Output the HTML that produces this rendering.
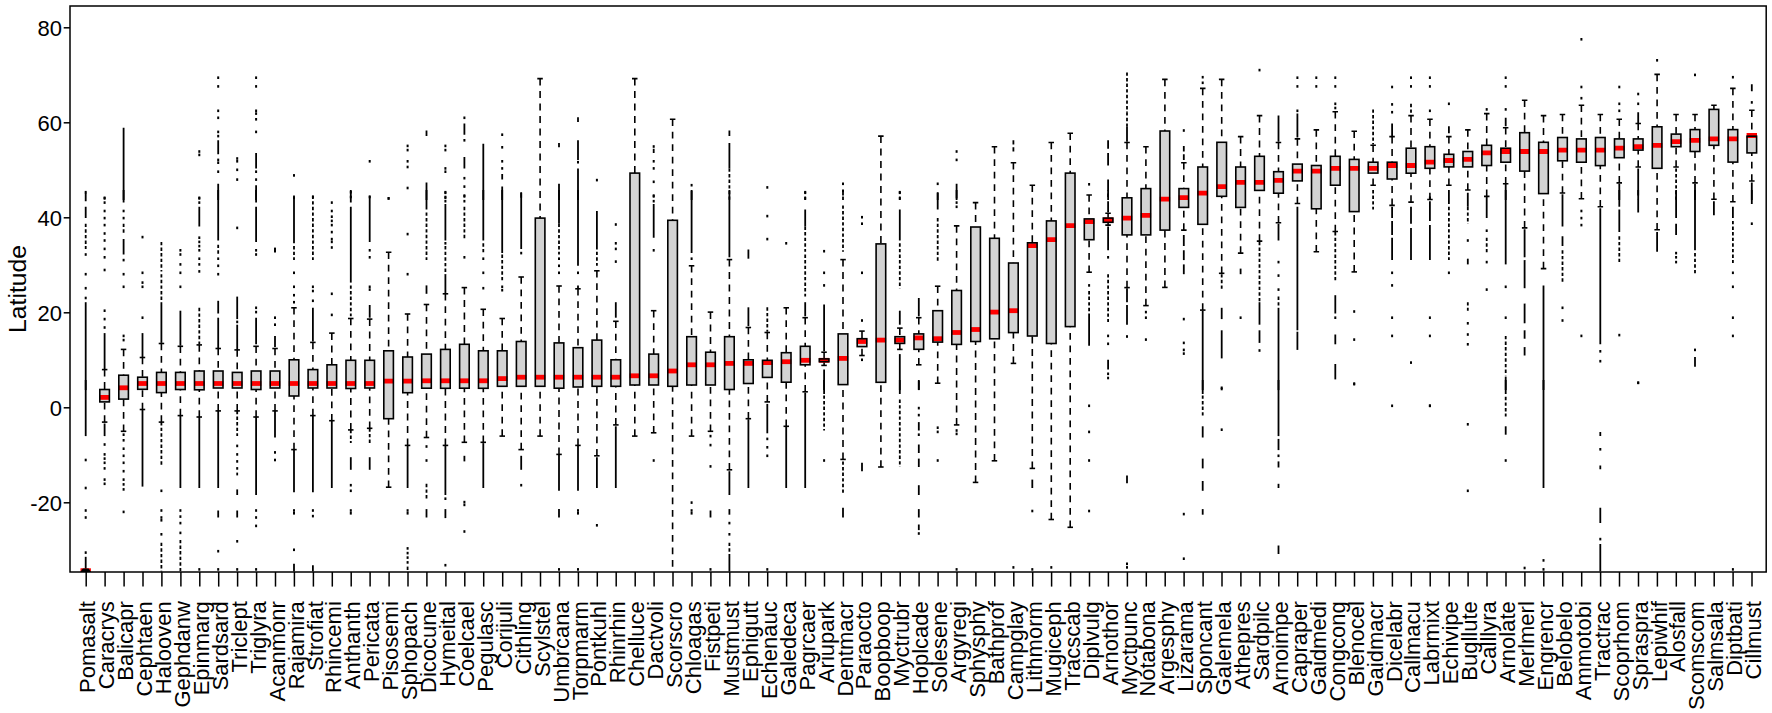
<!DOCTYPE html><html><head><meta charset="utf-8"><title>Latitude boxplot</title><style>html,body{margin:0;padding:0;background:#fff;overflow:hidden}svg{display:block}text{font-family:"Liberation Sans",sans-serif;fill:#000}</style></head><body>
<svg width="1772" height="713" viewBox="0 0 1772 713">
<rect width="1772" height="713" fill="#fff"/>
<defs><clipPath id="pc"><rect x="70" y="6" width="1696.2" height="566.0"/></clipPath></defs>
<g fill="none" clip-path="url(#pc)"><rect x="84.7" y="190.9" width="2" height="2.6" fill="#000"/><path d="M85.7 192.8V201.2" stroke="#000" stroke-width="1.8"/><path d="M85.7 206.8V218.1" stroke="#000" stroke-width="1.8"/><path d="M85.7 223.7V248.9" stroke="#000" stroke-width="1.8" stroke-dasharray="3.4 2.2"/><rect x="84.7" y="253.2" width="2" height="2.6" fill="#000"/><rect x="84.7" y="272.9" width="2" height="2.6" fill="#000"/><rect x="84.7" y="286.9" width="2" height="2.6" fill="#000"/><rect x="84.7" y="296.7" width="2" height="2.6" fill="#000"/><path d="M85.7 302.2V390.1" stroke="#000" stroke-width="1.8"/><path d="M85.7 380.0V436.1" stroke="#000" stroke-width="1.8"/><rect x="84.7" y="458.7" width="2" height="2.6" fill="#000"/><rect x="84.7" y="486.7" width="2" height="2.6" fill="#000"/><rect x="84.7" y="509.2" width="2" height="2.6" fill="#000"/><rect x="84.7" y="516.2" width="2" height="2.6" fill="#000"/><rect x="84.7" y="551.3" width="2" height="2.6" fill="#000"/><path d="M85.7 556.8V571.5" stroke="#000" stroke-width="1.8"/><rect x="80.5" y="568.3" width="10.4" height="3.6" fill="#f00"/><path d="M82.8 568.5H88.6L91.0 571.9H80.4Z" fill="#000"/><rect x="103.6" y="196.5" width="2.0" height="2.6" fill="#000"/><rect x="103.6" y="197.1" width="2.0" height="2.6" fill="#000"/><rect x="103.6" y="201.3" width="2.0" height="2.6" fill="#000"/><rect x="103.6" y="209.7" width="2.0" height="2.6" fill="#000"/><rect x="103.6" y="216.8" width="2.0" height="2.6" fill="#000"/><rect x="103.6" y="223.8" width="2.0" height="2.6" fill="#000"/><rect x="103.6" y="232.2" width="2.0" height="2.6" fill="#000"/><rect x="103.6" y="239.2" width="2.0" height="2.6" fill="#000"/><rect x="103.6" y="247.6" width="2.0" height="2.6" fill="#000"/><rect x="103.6" y="256.0" width="2.0" height="2.6" fill="#000"/><rect x="103.6" y="268.7" width="2.0" height="2.6" fill="#000"/><rect x="103.6" y="309.4" width="2.0" height="2.6" fill="#000"/><rect x="103.6" y="317.8" width="2.0" height="2.6" fill="#000"/><rect x="103.6" y="326.2" width="2.0" height="2.6" fill="#000"/><path d="M104.6 333.1V369.6" stroke="#000" stroke-width="1.8"/><path d="M104.6 423.5V436.1" stroke="#000" stroke-width="1.8"/><rect x="103.6" y="443.2" width="2.0" height="2.6" fill="#000"/><rect x="103.6" y="453.1" width="2.0" height="2.6" fill="#000"/><rect x="103.6" y="457.3" width="2.0" height="2.6" fill="#000"/><rect x="103.6" y="461.5" width="2.0" height="2.6" fill="#000"/><rect x="103.6" y="467.1" width="2.0" height="2.6" fill="#000"/><rect x="103.6" y="478.3" width="2.0" height="2.6" fill="#000"/><rect x="103.6" y="482.5" width="2.0" height="2.6" fill="#000"/><path d="M104.6 369.6V389.5" stroke="#000" stroke-width="1.6" stroke-dasharray="6.8 5.7"/><path d="M104.6 422.1V401.9" stroke="#000" stroke-width="1.6" stroke-dasharray="6.8 5.7"/><rect x="99.8" y="389.5" width="9.6" height="12.4" fill="#d3d3d3"/><path d="M99.4 397.4H109.8" stroke="#f00" stroke-width="4.8"/><rect x="99.8" y="389.5" width="9.6" height="12.4" stroke="#000" stroke-width="1.6"/><path d="M101.9 369.6H107.4" stroke="#000" stroke-width="1.6"/><path d="M101.9 422.1H107.4" stroke="#000" stroke-width="1.6"/><path d="M123.6 127.7V200.1" stroke="#000" stroke-width="1.8"/><path d="M123.6 190.0V202.6" stroke="#000" stroke-width="1.8"/><rect x="122.6" y="209.7" width="2.0" height="2.6" fill="#000"/><rect x="122.6" y="216.8" width="2.0" height="2.6" fill="#000"/><path d="M123.6 223.7V234.9" stroke="#000" stroke-width="1.8" stroke-dasharray="3.4 2.2"/><path d="M123.6 239.1V254.5" stroke="#000" stroke-width="1.8"/><rect x="122.6" y="258.8" width="2.0" height="2.6" fill="#000"/><rect x="122.6" y="272.9" width="2.0" height="2.6" fill="#000"/><rect x="122.6" y="285.5" width="2.0" height="2.6" fill="#000"/><rect x="122.6" y="334.6" width="2.0" height="2.6" fill="#000"/><rect x="122.6" y="338.8" width="2.0" height="2.6" fill="#000"/><rect x="122.6" y="433.4" width="2.0" height="2.6" fill="#000"/><rect x="122.6" y="439.0" width="2.0" height="2.6" fill="#000"/><rect x="122.6" y="447.4" width="2.0" height="2.6" fill="#000"/><rect x="122.6" y="454.5" width="2.0" height="2.6" fill="#000"/><rect x="122.6" y="461.5" width="2.0" height="2.6" fill="#000"/><rect x="122.6" y="469.9" width="2.0" height="2.6" fill="#000"/><rect x="122.6" y="478.3" width="2.0" height="2.6" fill="#000"/><rect x="122.6" y="483.1" width="2.0" height="2.6" fill="#000"/><rect x="122.6" y="488.1" width="2.0" height="2.6" fill="#000"/><rect x="122.6" y="510.6" width="2.0" height="2.6" fill="#000"/><path d="M123.6 349.4V375.2" stroke="#000" stroke-width="1.6" stroke-dasharray="6.8 5.7"/><path d="M123.6 431.3V399.1" stroke="#000" stroke-width="1.6" stroke-dasharray="6.8 5.7"/><rect x="118.8" y="375.2" width="9.6" height="23.9" fill="#d3d3d3"/><path d="M118.4 387.8H128.8" stroke="#f00" stroke-width="4.8"/><rect x="118.8" y="375.2" width="9.6" height="23.9" stroke="#000" stroke-width="1.6"/><path d="M120.8 349.4H126.3" stroke="#000" stroke-width="1.6"/><path d="M120.8 431.3H126.3" stroke="#000" stroke-width="1.6"/><rect x="141.5" y="235.8" width="2.0" height="2.6" fill="#000"/><rect x="141.5" y="271.5" width="2.0" height="2.6" fill="#000"/><rect x="141.5" y="281.3" width="2.0" height="2.6" fill="#000"/><rect x="141.5" y="285.5" width="2.0" height="2.6" fill="#000"/><rect x="141.5" y="316.4" width="2.0" height="2.6" fill="#000"/><path d="M142.5 333.1V357.0" stroke="#000" stroke-width="1.8"/><path d="M142.5 409.5V486.6" stroke="#000" stroke-width="1.8"/><path d="M142.5 357.5V377.2" stroke="#000" stroke-width="1.6" stroke-dasharray="6.8 5.7"/><path d="M142.5 409.5V389.2" stroke="#000" stroke-width="1.6" stroke-dasharray="6.8 5.7"/><rect x="137.7" y="377.2" width="9.6" height="12.1" fill="#d3d3d3"/><path d="M137.3 383.5H147.7" stroke="#f00" stroke-width="4.8"/><rect x="137.7" y="377.2" width="9.6" height="12.1" stroke="#000" stroke-width="1.6"/><path d="M139.7 357.5H145.2" stroke="#000" stroke-width="1.6"/><path d="M139.7 409.5H145.2" stroke="#000" stroke-width="1.6"/><path d="M161.4 241.9V271.4" stroke="#000" stroke-width="1.8" stroke-dasharray="3.4 2.2"/><path d="M161.4 274.2V302.2" stroke="#000" stroke-width="1.8" stroke-dasharray="3.4 2.2"/><path d="M161.4 302.2V342.9" stroke="#000" stroke-width="1.8"/><path d="M161.4 422.1V467.0" stroke="#000" stroke-width="1.8" stroke-dasharray="3.4 2.2"/><rect x="160.4" y="489.5" width="2.0" height="2.6" fill="#000"/><rect x="160.4" y="509.2" width="2.0" height="2.6" fill="#000"/><rect x="160.4" y="516.2" width="2.0" height="2.6" fill="#000"/><rect x="160.4" y="519.0" width="2.0" height="2.6" fill="#000"/><rect x="160.4" y="533.0" width="2.0" height="2.6" fill="#000"/><path d="M161.4 542.7V571.5" stroke="#000" stroke-width="1.8" stroke-dasharray="3.4 2.2"/><path d="M161.4 343.5V372.4" stroke="#000" stroke-width="1.6" stroke-dasharray="6.8 5.7"/><path d="M161.4 422.1V392.6" stroke="#000" stroke-width="1.6" stroke-dasharray="6.8 5.7"/><rect x="156.6" y="372.4" width="9.6" height="20.2" fill="#d3d3d3"/><path d="M156.2 383.5H166.6" stroke="#f00" stroke-width="4.8"/><rect x="156.6" y="372.4" width="9.6" height="20.2" stroke="#000" stroke-width="1.6"/><path d="M158.7 343.5H164.2" stroke="#000" stroke-width="1.6"/><path d="M158.7 422.1H164.2" stroke="#000" stroke-width="1.6"/><rect x="179.4" y="249.0" width="2.0" height="2.6" fill="#000"/><rect x="179.4" y="253.2" width="2.0" height="2.6" fill="#000"/><rect x="179.4" y="263.1" width="2.0" height="2.6" fill="#000"/><rect x="179.4" y="271.5" width="2.0" height="2.6" fill="#000"/><rect x="179.4" y="285.5" width="2.0" height="2.6" fill="#000"/><path d="M180.4 310.7V345.7" stroke="#000" stroke-width="1.8"/><path d="M180.4 415.6V488.0" stroke="#000" stroke-width="1.8"/><rect x="179.4" y="509.2" width="2.0" height="2.6" fill="#000"/><rect x="179.4" y="515.3" width="2.0" height="2.6" fill="#000"/><rect x="179.4" y="521.8" width="2.0" height="2.6" fill="#000"/><rect x="179.4" y="531.6" width="2.0" height="2.6" fill="#000"/><path d="M180.4 539.9V571.5" stroke="#000" stroke-width="1.8" stroke-dasharray="3.4 2.2"/><path d="M180.4 346.3V372.4" stroke="#000" stroke-width="1.6" stroke-dasharray="6.8 5.7"/><path d="M180.4 415.6V389.5" stroke="#000" stroke-width="1.6" stroke-dasharray="6.8 5.7"/><rect x="175.6" y="372.4" width="9.6" height="17.1" fill="#d3d3d3"/><path d="M175.2 383.5H185.6" stroke="#f00" stroke-width="4.8"/><rect x="175.6" y="372.4" width="9.6" height="17.1" stroke="#000" stroke-width="1.6"/><path d="M177.6 346.3H183.1" stroke="#000" stroke-width="1.6"/><path d="M177.6 415.6H183.1" stroke="#000" stroke-width="1.6"/><rect x="198.3" y="150.2" width="2.0" height="2.6" fill="#000"/><rect x="198.3" y="153.6" width="2.0" height="2.6" fill="#000"/><rect x="198.3" y="196.5" width="2.0" height="2.6" fill="#000"/><rect x="198.3" y="197.1" width="2.0" height="2.6" fill="#000"/><rect x="198.3" y="201.3" width="2.0" height="2.6" fill="#000"/><path d="M199.3 206.8V226.5" stroke="#000" stroke-width="1.8"/><rect x="198.3" y="236.4" width="2.0" height="2.6" fill="#000"/><rect x="198.3" y="240.6" width="2.0" height="2.6" fill="#000"/><rect x="198.3" y="244.8" width="2.0" height="2.6" fill="#000"/><rect x="198.3" y="249.0" width="2.0" height="2.6" fill="#000"/><rect x="198.3" y="257.4" width="2.0" height="2.6" fill="#000"/><rect x="198.3" y="263.1" width="2.0" height="2.6" fill="#000"/><rect x="198.3" y="270.1" width="2.0" height="2.6" fill="#000"/><path d="M199.3 307.8V344.3" stroke="#000" stroke-width="1.8" stroke-dasharray="3.4 2.2"/><path d="M199.3 417.0V488.0" stroke="#000" stroke-width="1.8"/><rect x="198.3" y="568.1" width="2.0" height="2.6" fill="#000"/><path d="M199.3 344.9V371.0" stroke="#000" stroke-width="1.6" stroke-dasharray="6.8 5.7"/><path d="M199.3 417.0V389.8" stroke="#000" stroke-width="1.6" stroke-dasharray="6.8 5.7"/><rect x="194.5" y="371.0" width="9.6" height="18.8" fill="#d3d3d3"/><path d="M194.1 383.5H204.5" stroke="#f00" stroke-width="4.8"/><rect x="194.5" y="371.0" width="9.6" height="18.8" stroke="#000" stroke-width="1.6"/><path d="M196.5 344.9H202.0" stroke="#000" stroke-width="1.6"/><path d="M196.5 417.0H202.0" stroke="#000" stroke-width="1.6"/><rect x="217.2" y="76.4" width="2.0" height="2.6" fill="#000"/><rect x="217.2" y="85.1" width="2.0" height="2.6" fill="#000"/><rect x="217.2" y="109.5" width="2.0" height="2.6" fill="#000"/><rect x="217.2" y="116.5" width="2.0" height="2.6" fill="#000"/><rect x="217.2" y="130.6" width="2.0" height="2.6" fill="#000"/><rect x="217.2" y="134.8" width="2.0" height="2.6" fill="#000"/><path d="M218.2 140.3V154.3" stroke="#000" stroke-width="1.8"/><rect x="217.2" y="158.6" width="2.0" height="2.6" fill="#000"/><rect x="217.2" y="161.4" width="2.0" height="2.6" fill="#000"/><rect x="217.2" y="170.4" width="2.0" height="2.6" fill="#000"/><path d="M218.2 183.8V200.1" stroke="#000" stroke-width="1.8"/><path d="M218.2 190.0V240.5" stroke="#000" stroke-width="1.8"/><path d="M218.2 244.7V254.5" stroke="#000" stroke-width="1.8" stroke-dasharray="3.4 2.2"/><rect x="217.2" y="257.4" width="2.0" height="2.6" fill="#000"/><rect x="217.2" y="264.5" width="2.0" height="2.6" fill="#000"/><rect x="217.2" y="272.9" width="2.0" height="2.6" fill="#000"/><path d="M218.2 300.8V313.5" stroke="#000" stroke-width="1.8"/><path d="M218.2 317.7V348.5" stroke="#000" stroke-width="1.8"/><path d="M218.2 410.9V488.0" stroke="#000" stroke-width="1.8"/><path d="M218.2 510.5V517.5" stroke="#000" stroke-width="1.8"/><rect x="217.2" y="549.9" width="2.0" height="2.6" fill="#000"/><rect x="217.2" y="568.1" width="2.0" height="2.6" fill="#000"/><path d="M218.2 348.5V371.0" stroke="#000" stroke-width="1.6" stroke-dasharray="6.8 5.7"/><path d="M218.2 410.9V388.0" stroke="#000" stroke-width="1.6" stroke-dasharray="6.8 5.7"/><rect x="213.4" y="371.0" width="9.6" height="17.0" fill="#d3d3d3"/><path d="M213.0 383.5H223.4" stroke="#f00" stroke-width="4.8"/><rect x="213.4" y="371.0" width="9.6" height="17.0" stroke="#000" stroke-width="1.6"/><path d="M215.5 348.5H221.0" stroke="#000" stroke-width="1.6"/><path d="M215.5 410.9H221.0" stroke="#000" stroke-width="1.6"/><rect x="236.2" y="157.2" width="2.0" height="2.6" fill="#000"/><rect x="236.2" y="160.0" width="2.0" height="2.6" fill="#000"/><rect x="236.2" y="168.5" width="2.0" height="2.6" fill="#000"/><rect x="236.2" y="178.3" width="2.0" height="2.6" fill="#000"/><rect x="236.2" y="226.6" width="2.0" height="2.6" fill="#000"/><path d="M237.2 296.6V319.1" stroke="#000" stroke-width="1.8"/><rect x="236.2" y="320.6" width="2.0" height="2.6" fill="#000"/><path d="M237.2 324.7V349.9" stroke="#000" stroke-width="1.8"/><path d="M237.2 410.9V436.1" stroke="#000" stroke-width="1.8" stroke-dasharray="3.4 2.2"/><rect x="236.2" y="444.6" width="2.0" height="2.6" fill="#000"/><rect x="236.2" y="453.1" width="2.0" height="2.6" fill="#000"/><rect x="236.2" y="460.1" width="2.0" height="2.6" fill="#000"/><rect x="236.2" y="467.1" width="2.0" height="2.6" fill="#000"/><path d="M237.2 472.6V475.4" stroke="#000" stroke-width="1.8"/><path d="M237.2 489.4V495.0" stroke="#000" stroke-width="1.8"/><path d="M237.2 510.5V517.5" stroke="#000" stroke-width="1.8"/><rect x="236.2" y="540.0" width="2.0" height="2.6" fill="#000"/><rect x="236.2" y="568.1" width="2.0" height="2.6" fill="#000"/><path d="M237.2 349.9V372.4" stroke="#000" stroke-width="1.6" stroke-dasharray="6.8 5.7"/><path d="M237.2 410.9V388.0" stroke="#000" stroke-width="1.6" stroke-dasharray="6.8 5.7"/><rect x="232.4" y="372.4" width="9.6" height="15.6" fill="#d3d3d3"/><path d="M232.0 383.5H242.4" stroke="#f00" stroke-width="4.8"/><rect x="232.4" y="372.4" width="9.6" height="15.6" stroke="#000" stroke-width="1.6"/><path d="M234.4 349.9H239.9" stroke="#000" stroke-width="1.6"/><path d="M234.4 410.9H239.9" stroke="#000" stroke-width="1.6"/><rect x="255.1" y="76.4" width="2.0" height="2.6" fill="#000"/><rect x="255.1" y="85.1" width="2.0" height="2.6" fill="#000"/><rect x="255.1" y="109.5" width="2.0" height="2.6" fill="#000"/><rect x="255.1" y="112.3" width="2.0" height="2.6" fill="#000"/><rect x="255.1" y="118.0" width="2.0" height="2.6" fill="#000"/><rect x="255.1" y="130.6" width="2.0" height="2.6" fill="#000"/><path d="M256.1 152.9V168.4" stroke="#000" stroke-width="1.8"/><rect x="255.1" y="170.4" width="2.0" height="2.6" fill="#000"/><rect x="255.1" y="178.3" width="2.0" height="2.6" fill="#000"/><path d="M256.1 185.2V200.1" stroke="#000" stroke-width="1.8"/><path d="M256.1 190.0V202.6" stroke="#000" stroke-width="1.8"/><path d="M256.1 206.8V241.9" stroke="#000" stroke-width="1.8"/><rect x="255.1" y="249.0" width="2.0" height="2.6" fill="#000"/><rect x="255.1" y="253.2" width="2.0" height="2.6" fill="#000"/><rect x="255.1" y="306.5" width="2.0" height="2.6" fill="#000"/><rect x="255.1" y="310.8" width="2.0" height="2.6" fill="#000"/><path d="M256.1 317.7V344.3" stroke="#000" stroke-width="1.8"/><path d="M256.1 417.0V495.0" stroke="#000" stroke-width="1.8"/><rect x="255.1" y="509.2" width="2.0" height="2.6" fill="#000"/><rect x="255.1" y="516.2" width="2.0" height="2.6" fill="#000"/><rect x="255.1" y="524.6" width="2.0" height="2.6" fill="#000"/><rect x="255.1" y="568.1" width="2.0" height="2.6" fill="#000"/><path d="M256.1 346.3V371.0" stroke="#000" stroke-width="1.6" stroke-dasharray="6.8 5.7"/><path d="M256.1 417.0V389.5" stroke="#000" stroke-width="1.6" stroke-dasharray="6.8 5.7"/><rect x="251.3" y="371.0" width="9.6" height="18.5" fill="#d3d3d3"/><path d="M250.9 383.5H261.3" stroke="#f00" stroke-width="4.8"/><rect x="251.3" y="371.0" width="9.6" height="18.5" stroke="#000" stroke-width="1.6"/><path d="M253.3 346.3H258.8" stroke="#000" stroke-width="1.6"/><path d="M253.3 417.0H258.8" stroke="#000" stroke-width="1.6"/><rect x="274.0" y="247.6" width="2.0" height="2.6" fill="#000"/><rect x="274.0" y="249.9" width="2.0" height="2.6" fill="#000"/><rect x="274.0" y="316.4" width="2.0" height="2.6" fill="#000"/><rect x="274.0" y="323.4" width="2.0" height="2.6" fill="#000"/><path d="M275.0 335.9V347.1" stroke="#000" stroke-width="1.8"/><path d="M275.0 410.9V437.5" stroke="#000" stroke-width="1.8"/><rect x="274.0" y="451.1" width="2.0" height="2.6" fill="#000"/><rect x="274.0" y="458.7" width="2.0" height="2.6" fill="#000"/><path d="M275.0 348.5V371.0" stroke="#000" stroke-width="1.6" stroke-dasharray="6.8 5.7"/><path d="M275.0 410.9V388.0" stroke="#000" stroke-width="1.6" stroke-dasharray="6.8 5.7"/><rect x="270.2" y="371.0" width="9.6" height="17.0" fill="#d3d3d3"/><path d="M269.8 383.5H280.2" stroke="#f00" stroke-width="4.8"/><rect x="270.2" y="371.0" width="9.6" height="17.0" stroke="#000" stroke-width="1.6"/><path d="M272.3 348.5H277.8" stroke="#000" stroke-width="1.6"/><path d="M272.3 410.9H277.8" stroke="#000" stroke-width="1.6"/><rect x="293.0" y="174.1" width="2.0" height="2.6" fill="#000"/><rect x="293.0" y="196.5" width="2.0" height="2.6" fill="#000"/><path d="M294.0 195.6V243.3" stroke="#000" stroke-width="1.8"/><path d="M294.0 246.1V260.1" stroke="#000" stroke-width="1.8" stroke-dasharray="3.4 2.2"/><rect x="293.0" y="271.5" width="2.0" height="2.6" fill="#000"/><rect x="293.0" y="285.5" width="2.0" height="2.6" fill="#000"/><rect x="293.0" y="293.9" width="2.0" height="2.6" fill="#000"/><rect x="293.0" y="300.9" width="2.0" height="2.6" fill="#000"/><path d="M294.0 450.1V492.2" stroke="#000" stroke-width="1.8"/><rect x="293.0" y="509.2" width="2.0" height="2.6" fill="#000"/><rect x="293.0" y="512.0" width="2.0" height="2.6" fill="#000"/><rect x="293.0" y="548.5" width="2.0" height="2.6" fill="#000"/><path d="M294.0 563.8V571.5" stroke="#000" stroke-width="1.8"/><path d="M294.0 307.8V359.8" stroke="#000" stroke-width="1.6" stroke-dasharray="6.8 5.7"/><path d="M294.0 449.6V396.0" stroke="#000" stroke-width="1.6" stroke-dasharray="6.8 5.7"/><rect x="289.2" y="359.8" width="9.6" height="36.2" fill="#d3d3d3"/><path d="M288.8 383.5H299.2" stroke="#f00" stroke-width="4.8"/><rect x="289.2" y="359.8" width="9.6" height="36.2" stroke="#000" stroke-width="1.6"/><path d="M291.2 307.8H296.7" stroke="#000" stroke-width="1.6"/><path d="M291.2 449.6H296.7" stroke="#000" stroke-width="1.6"/><rect x="311.9" y="195.7" width="2.0" height="2.6" fill="#000"/><path d="M312.9 195.6V260.1" stroke="#000" stroke-width="1.8" stroke-dasharray="3.4 2.2"/><rect x="311.9" y="285.5" width="2.0" height="2.6" fill="#000"/><rect x="311.9" y="289.7" width="2.0" height="2.6" fill="#000"/><rect x="311.9" y="299.5" width="2.0" height="2.6" fill="#000"/><path d="M312.9 307.8V341.5" stroke="#000" stroke-width="1.8"/><path d="M312.9 415.6V492.2" stroke="#000" stroke-width="1.8"/><rect x="311.9" y="509.2" width="2.0" height="2.6" fill="#000"/><rect x="311.9" y="514.8" width="2.0" height="2.6" fill="#000"/><path d="M312.9 565.2V571.5" stroke="#000" stroke-width="1.8"/><path d="M312.9 342.4V369.6" stroke="#000" stroke-width="1.6" stroke-dasharray="6.8 5.7"/><path d="M312.9 415.6V388.0" stroke="#000" stroke-width="1.6" stroke-dasharray="6.8 5.7"/><rect x="308.1" y="369.6" width="9.6" height="18.4" fill="#d3d3d3"/><path d="M307.7 383.5H318.1" stroke="#f00" stroke-width="4.8"/><rect x="308.1" y="369.6" width="9.6" height="18.4" stroke="#000" stroke-width="1.6"/><path d="M310.1 342.4H315.6" stroke="#000" stroke-width="1.6"/><path d="M310.1 415.6H315.6" stroke="#000" stroke-width="1.6"/><rect x="330.8" y="201.3" width="2.0" height="2.6" fill="#000"/><rect x="330.8" y="209.7" width="2.0" height="2.6" fill="#000"/><rect x="330.8" y="215.4" width="2.0" height="2.6" fill="#000"/><rect x="330.8" y="219.6" width="2.0" height="2.6" fill="#000"/><rect x="330.8" y="223.8" width="2.0" height="2.6" fill="#000"/><rect x="330.8" y="230.8" width="2.0" height="2.6" fill="#000"/><rect x="330.8" y="237.8" width="2.0" height="2.6" fill="#000"/><rect x="330.8" y="240.6" width="2.0" height="2.6" fill="#000"/><rect x="330.8" y="246.2" width="2.0" height="2.6" fill="#000"/><rect x="330.8" y="292.5" width="2.0" height="2.6" fill="#000"/><rect x="330.8" y="313.6" width="2.0" height="2.6" fill="#000"/><path d="M331.8 420.7V488.0" stroke="#000" stroke-width="1.8"/><path d="M331.8 333.1V364.8" stroke="#000" stroke-width="1.6" stroke-dasharray="6.8 5.7"/><path d="M331.8 420.7V388.0" stroke="#000" stroke-width="1.6" stroke-dasharray="6.8 5.7"/><rect x="327.0" y="364.8" width="9.6" height="23.2" fill="#d3d3d3"/><path d="M326.6 383.5H337.0" stroke="#f00" stroke-width="4.8"/><rect x="327.0" y="364.8" width="9.6" height="23.2" stroke="#000" stroke-width="1.6"/><path d="M329.1 333.1H334.6" stroke="#000" stroke-width="1.6"/><path d="M329.1 420.7H334.6" stroke="#000" stroke-width="1.6"/><rect x="349.8" y="190.9" width="2.0" height="2.6" fill="#000"/><rect x="349.8" y="195.7" width="2.0" height="2.6" fill="#000"/><path d="M350.8 190.0V202.6" stroke="#000" stroke-width="1.8"/><path d="M350.8 206.8V282.6" stroke="#000" stroke-width="1.8"/><path d="M350.8 285.4V316.3" stroke="#000" stroke-width="1.8" stroke-dasharray="3.4 2.2"/><path d="M350.8 429.9V443.1" stroke="#000" stroke-width="1.8" stroke-dasharray="3.4 2.2"/><path d="M350.8 457.2V469.8" stroke="#000" stroke-width="1.8"/><rect x="349.8" y="483.9" width="2.0" height="2.6" fill="#000"/><rect x="349.8" y="489.5" width="2.0" height="2.6" fill="#000"/><rect x="349.8" y="509.2" width="2.0" height="2.6" fill="#000"/><rect x="349.8" y="512.0" width="2.0" height="2.6" fill="#000"/><path d="M350.8 318.5V360.3" stroke="#000" stroke-width="1.6" stroke-dasharray="6.8 5.7"/><path d="M350.8 429.9V388.5" stroke="#000" stroke-width="1.6" stroke-dasharray="6.8 5.7"/><rect x="346.0" y="360.3" width="9.6" height="28.2" fill="#d3d3d3"/><path d="M345.6 383.5H356.0" stroke="#f00" stroke-width="4.8"/><rect x="346.0" y="360.3" width="9.6" height="28.2" stroke="#000" stroke-width="1.6"/><path d="M348.0 318.5H353.5" stroke="#000" stroke-width="1.6"/><path d="M348.0 429.9H353.5" stroke="#000" stroke-width="1.6"/><rect x="368.7" y="160.0" width="2.0" height="2.6" fill="#000"/><rect x="368.7" y="195.7" width="2.0" height="2.6" fill="#000"/><path d="M369.7 195.6V241.9" stroke="#000" stroke-width="1.8"/><rect x="368.7" y="249.0" width="2.0" height="2.6" fill="#000"/><rect x="368.7" y="256.0" width="2.0" height="2.6" fill="#000"/><rect x="368.7" y="285.5" width="2.0" height="2.6" fill="#000"/><rect x="368.7" y="288.3" width="2.0" height="2.6" fill="#000"/><path d="M369.7 305.0V317.7" stroke="#000" stroke-width="1.8"/><path d="M369.7 428.3V443.1" stroke="#000" stroke-width="1.8" stroke-dasharray="3.4 2.2"/><path d="M369.7 457.2V469.8" stroke="#000" stroke-width="1.8"/><path d="M369.7 319.1V360.3" stroke="#000" stroke-width="1.6" stroke-dasharray="6.8 5.7"/><path d="M369.7 428.3V388.0" stroke="#000" stroke-width="1.6" stroke-dasharray="6.8 5.7"/><rect x="364.9" y="360.3" width="9.6" height="27.7" fill="#d3d3d3"/><path d="M364.5 383.5H374.9" stroke="#f00" stroke-width="4.8"/><rect x="364.9" y="360.3" width="9.6" height="27.7" stroke="#000" stroke-width="1.6"/><path d="M366.9 319.1H372.4" stroke="#000" stroke-width="1.6"/><path d="M366.9 428.3H372.4" stroke="#000" stroke-width="1.6"/><rect x="387.6" y="197.1" width="2.0" height="2.6" fill="#000"/><rect x="387.6" y="197.1" width="2.0" height="2.6" fill="#000"/><path d="M388.6 252.3V350.8" stroke="#000" stroke-width="1.6" stroke-dasharray="6.8 5.7"/><path d="M388.6 487.2V418.7" stroke="#000" stroke-width="1.6" stroke-dasharray="6.8 5.7"/><rect x="383.8" y="350.8" width="9.6" height="67.9" fill="#d3d3d3"/><path d="M383.4 381.1H393.8" stroke="#f00" stroke-width="4.8"/><rect x="383.8" y="350.8" width="9.6" height="67.9" stroke="#000" stroke-width="1.6"/><path d="M385.9 252.3H391.4" stroke="#000" stroke-width="1.6"/><path d="M385.9 487.2H391.4" stroke="#000" stroke-width="1.6"/><rect x="406.6" y="144.6" width="2.0" height="2.6" fill="#000"/><rect x="406.6" y="148.8" width="2.0" height="2.6" fill="#000"/><rect x="406.6" y="160.0" width="2.0" height="2.6" fill="#000"/><rect x="406.6" y="165.7" width="2.0" height="2.6" fill="#000"/><rect x="406.6" y="186.7" width="2.0" height="2.6" fill="#000"/><rect x="406.6" y="232.8" width="2.0" height="2.6" fill="#000"/><rect x="406.6" y="272.9" width="2.0" height="2.6" fill="#000"/><path d="M407.6 445.9V488.0" stroke="#000" stroke-width="1.8"/><rect x="406.6" y="509.2" width="2.0" height="2.6" fill="#000"/><rect x="406.6" y="512.0" width="2.0" height="2.6" fill="#000"/><rect x="406.6" y="547.1" width="2.0" height="2.6" fill="#000"/><rect x="406.6" y="551.8" width="2.0" height="2.6" fill="#000"/><rect x="406.6" y="556.3" width="2.0" height="2.6" fill="#000"/><rect x="406.6" y="561.1" width="2.0" height="2.6" fill="#000"/><path d="M407.6 566.6V571.5" stroke="#000" stroke-width="1.8" stroke-dasharray="3.4 2.2"/><path d="M407.6 314.0V357.0" stroke="#000" stroke-width="1.6" stroke-dasharray="6.8 5.7"/><path d="M407.6 445.4V392.6" stroke="#000" stroke-width="1.6" stroke-dasharray="6.8 5.7"/><rect x="402.8" y="357.0" width="9.6" height="35.7" fill="#d3d3d3"/><path d="M402.4 381.1H412.8" stroke="#f00" stroke-width="4.8"/><rect x="402.8" y="357.0" width="9.6" height="35.7" stroke="#000" stroke-width="1.6"/><path d="M404.8 314.0H410.3" stroke="#000" stroke-width="1.6"/><path d="M404.8 445.4H410.3" stroke="#000" stroke-width="1.6"/><path d="M426.5 130.5V136.1" stroke="#000" stroke-width="1.8"/><path d="M426.5 182.4V200.1" stroke="#000" stroke-width="1.8"/><path d="M426.5 190.0V209.6" stroke="#000" stroke-width="1.8"/><path d="M426.5 212.4V260.1" stroke="#000" stroke-width="1.8" stroke-dasharray="3.4 2.2"/><path d="M426.5 285.4V293.8" stroke="#000" stroke-width="1.8"/><rect x="425.5" y="445.2" width="2.0" height="2.6" fill="#000"/><rect x="425.5" y="459.2" width="2.0" height="2.6" fill="#000"/><path d="M426.5 483.8V499.3" stroke="#000" stroke-width="1.8" stroke-dasharray="3.4 2.2"/><path d="M426.5 509.1V517.5" stroke="#000" stroke-width="1.8"/><path d="M426.5 304.5V354.1" stroke="#000" stroke-width="1.6" stroke-dasharray="6.8 5.7"/><path d="M426.5 437.5V388.3" stroke="#000" stroke-width="1.6" stroke-dasharray="6.8 5.7"/><rect x="421.7" y="354.1" width="9.6" height="34.1" fill="#d3d3d3"/><path d="M421.3 380.8H431.7" stroke="#f00" stroke-width="4.8"/><rect x="421.7" y="354.1" width="9.6" height="34.1" stroke="#000" stroke-width="1.6"/><path d="M423.7 304.5H429.2" stroke="#000" stroke-width="1.6"/><path d="M423.7 437.5H429.2" stroke="#000" stroke-width="1.6"/><rect x="444.4" y="144.6" width="2.0" height="2.6" fill="#000"/><rect x="444.4" y="148.8" width="2.0" height="2.6" fill="#000"/><rect x="444.4" y="167.1" width="2.0" height="2.6" fill="#000"/><rect x="444.4" y="170.4" width="2.0" height="2.6" fill="#000"/><rect x="444.4" y="190.9" width="2.0" height="2.6" fill="#000"/><rect x="444.4" y="196.5" width="2.0" height="2.6" fill="#000"/><rect x="444.4" y="191.5" width="2.0" height="2.6" fill="#000"/><rect x="444.4" y="195.7" width="2.0" height="2.6" fill="#000"/><rect x="444.4" y="199.9" width="2.0" height="2.6" fill="#000"/><path d="M445.4 204.0V240.5" stroke="#000" stroke-width="1.8"/><rect x="444.4" y="242.0" width="2.0" height="2.6" fill="#000"/><path d="M445.4 246.1V274.2" stroke="#000" stroke-width="1.8" stroke-dasharray="3.4 2.2"/><path d="M445.4 274.2V293.8" stroke="#000" stroke-width="1.8"/><path d="M445.4 445.9V495.0" stroke="#000" stroke-width="1.8"/><rect x="444.4" y="497.4" width="2.0" height="2.6" fill="#000"/><path d="M445.4 509.1V518.1" stroke="#000" stroke-width="1.8"/><rect x="444.4" y="563.9" width="2.0" height="2.6" fill="#000"/><path d="M445.4 293.8V349.4" stroke="#000" stroke-width="1.6" stroke-dasharray="6.8 5.7"/><path d="M445.4 445.4V388.3" stroke="#000" stroke-width="1.6" stroke-dasharray="6.8 5.7"/><rect x="440.6" y="349.4" width="9.6" height="38.9" fill="#d3d3d3"/><path d="M440.2 380.8H450.6" stroke="#f00" stroke-width="4.8"/><rect x="440.6" y="349.4" width="9.6" height="38.9" stroke="#000" stroke-width="1.6"/><path d="M442.7 293.8H448.2" stroke="#000" stroke-width="1.6"/><path d="M442.7 445.4H448.2" stroke="#000" stroke-width="1.6"/><rect x="463.4" y="116.5" width="2.0" height="2.6" fill="#000"/><path d="M464.4 123.5V134.7" stroke="#000" stroke-width="1.8"/><rect x="463.4" y="139.0" width="2.0" height="2.6" fill="#000"/><path d="M464.4 157.1V168.4" stroke="#000" stroke-width="1.8"/><rect x="463.4" y="176.9" width="2.0" height="2.6" fill="#000"/><rect x="463.4" y="185.3" width="2.0" height="2.6" fill="#000"/><rect x="463.4" y="195.1" width="2.0" height="2.6" fill="#000"/><rect x="463.4" y="194.3" width="2.0" height="2.6" fill="#000"/><rect x="463.4" y="199.9" width="2.0" height="2.6" fill="#000"/><path d="M464.4 206.8V240.5" stroke="#000" stroke-width="1.8" stroke-dasharray="3.4 2.2"/><rect x="463.4" y="256.0" width="2.0" height="2.6" fill="#000"/><path d="M464.4 455.8V461.4" stroke="#000" stroke-width="1.8"/><rect x="463.4" y="500.8" width="2.0" height="2.6" fill="#000"/><rect x="463.4" y="503.6" width="2.0" height="2.6" fill="#000"/><rect x="463.4" y="530.2" width="2.0" height="2.6" fill="#000"/><path d="M464.4 287.6V344.3" stroke="#000" stroke-width="1.6" stroke-dasharray="6.8 5.7"/><path d="M464.4 442.3V388.3" stroke="#000" stroke-width="1.6" stroke-dasharray="6.8 5.7"/><rect x="459.6" y="344.3" width="9.6" height="43.9" fill="#d3d3d3"/><path d="M459.2 380.8H469.6" stroke="#f00" stroke-width="4.8"/><rect x="459.6" y="344.3" width="9.6" height="43.9" stroke="#000" stroke-width="1.6"/><path d="M461.6 287.6H467.1" stroke="#000" stroke-width="1.6"/><path d="M461.6 442.3H467.1" stroke="#000" stroke-width="1.6"/><path d="M483.3 143.7V200.1" stroke="#000" stroke-width="1.8"/><path d="M483.3 190.0V240.5" stroke="#000" stroke-width="1.8"/><path d="M483.3 243.3V254.5" stroke="#000" stroke-width="1.8" stroke-dasharray="3.4 2.2"/><rect x="482.3" y="257.4" width="2.0" height="2.6" fill="#000"/><rect x="482.3" y="271.5" width="2.0" height="2.6" fill="#000"/><rect x="482.3" y="286.9" width="2.0" height="2.6" fill="#000"/><path d="M483.3 443.1V488.0" stroke="#000" stroke-width="1.8"/><path d="M483.3 309.3V350.8" stroke="#000" stroke-width="1.6" stroke-dasharray="6.8 5.7"/><path d="M483.3 442.3V388.3" stroke="#000" stroke-width="1.6" stroke-dasharray="6.8 5.7"/><rect x="478.5" y="350.8" width="9.6" height="37.5" fill="#d3d3d3"/><path d="M478.1 380.8H488.5" stroke="#f00" stroke-width="4.8"/><rect x="478.5" y="350.8" width="9.6" height="37.5" stroke="#000" stroke-width="1.6"/><path d="M480.5 309.3H486.0" stroke="#000" stroke-width="1.6"/><path d="M480.5 442.3H486.0" stroke="#000" stroke-width="1.6"/><rect x="501.2" y="133.4" width="2.0" height="2.6" fill="#000"/><rect x="501.2" y="146.0" width="2.0" height="2.6" fill="#000"/><rect x="501.2" y="160.0" width="2.0" height="2.6" fill="#000"/><rect x="501.2" y="167.1" width="2.0" height="2.6" fill="#000"/><path d="M502.2 174.0V179.6" stroke="#000" stroke-width="1.8"/><path d="M502.2 186.6V200.1" stroke="#000" stroke-width="1.8"/><path d="M502.2 190.0V253.1" stroke="#000" stroke-width="1.8"/><path d="M502.2 254.5V282.6" stroke="#000" stroke-width="1.8" stroke-dasharray="3.4 2.2"/><rect x="501.2" y="285.5" width="2.0" height="2.6" fill="#000"/><rect x="501.2" y="288.9" width="2.0" height="2.6" fill="#000"/><path d="M502.2 318.5V350.8" stroke="#000" stroke-width="1.6" stroke-dasharray="6.8 5.7"/><path d="M502.2 436.1V386.3" stroke="#000" stroke-width="1.6" stroke-dasharray="6.8 5.7"/><rect x="497.4" y="350.8" width="9.6" height="35.5" fill="#d3d3d3"/><path d="M497.0 378.6H507.4" stroke="#f00" stroke-width="4.8"/><rect x="497.4" y="350.8" width="9.6" height="35.5" stroke="#000" stroke-width="1.6"/><path d="M499.5 318.5H505.0" stroke="#000" stroke-width="1.6"/><path d="M499.5 436.1H505.0" stroke="#000" stroke-width="1.6"/><path d="M521.2 192.2V197.8" stroke="#000" stroke-width="1.8"/><path d="M521.2 192.8V248.9" stroke="#000" stroke-width="1.8"/><rect x="520.2" y="251.8" width="2.0" height="2.6" fill="#000"/><path d="M521.2 455.8V469.8" stroke="#000" stroke-width="1.8"/><rect x="520.2" y="483.9" width="2.0" height="2.6" fill="#000"/><path d="M521.2 277.0V341.5" stroke="#000" stroke-width="1.6" stroke-dasharray="6.8 5.7"/><path d="M521.2 449.6V386.3" stroke="#000" stroke-width="1.6" stroke-dasharray="6.8 5.7"/><rect x="516.4" y="341.5" width="9.6" height="44.8" fill="#d3d3d3"/><path d="M516.0 377.2H526.4" stroke="#f00" stroke-width="4.8"/><rect x="516.4" y="341.5" width="9.6" height="44.8" stroke="#000" stroke-width="1.6"/><path d="M518.4 277.0H523.9" stroke="#000" stroke-width="1.6"/><path d="M518.4 449.6H523.9" stroke="#000" stroke-width="1.6"/><path d="M540.1 78.6V218.1" stroke="#000" stroke-width="1.6" stroke-dasharray="6.8 5.7"/><path d="M540.1 436.1V386.3" stroke="#000" stroke-width="1.6" stroke-dasharray="6.8 5.7"/><rect x="535.3" y="218.1" width="9.6" height="168.2" fill="#d3d3d3"/><path d="M534.9 377.2H545.3" stroke="#f00" stroke-width="4.8"/><rect x="535.3" y="218.1" width="9.6" height="168.2" stroke="#000" stroke-width="1.6"/><path d="M537.3 78.6H542.8" stroke="#000" stroke-width="1.6"/><path d="M537.3 436.1H542.8" stroke="#000" stroke-width="1.6"/><path d="M559.0 143.1V147.3" stroke="#000" stroke-width="1.8"/><path d="M559.0 183.8V200.1" stroke="#000" stroke-width="1.8"/><path d="M559.0 190.0V223.7" stroke="#000" stroke-width="1.8"/><path d="M559.0 223.7V254.5" stroke="#000" stroke-width="1.8" stroke-dasharray="3.4 2.2"/><rect x="558.0" y="257.4" width="2.0" height="2.6" fill="#000"/><rect x="558.0" y="264.5" width="2.0" height="2.6" fill="#000"/><rect x="558.0" y="271.5" width="2.0" height="2.6" fill="#000"/><path d="M559.0 454.4V490.8" stroke="#000" stroke-width="1.8"/><path d="M559.0 509.1V517.5" stroke="#000" stroke-width="1.8"/><rect x="558.0" y="568.1" width="2.0" height="2.6" fill="#000"/><path d="M559.0 286.0V342.9" stroke="#000" stroke-width="1.6" stroke-dasharray="6.8 5.7"/><path d="M559.0 454.4V388.3" stroke="#000" stroke-width="1.6" stroke-dasharray="6.8 5.7"/><rect x="554.2" y="342.9" width="9.6" height="45.3" fill="#d3d3d3"/><path d="M553.8 377.2H564.2" stroke="#f00" stroke-width="4.8"/><rect x="554.2" y="342.9" width="9.6" height="45.3" stroke="#000" stroke-width="1.6"/><path d="M556.3 286.0H561.8" stroke="#000" stroke-width="1.6"/><path d="M556.3 454.4H561.8" stroke="#000" stroke-width="1.6"/><path d="M578.0 117.3V122.1" stroke="#000" stroke-width="1.8"/><path d="M578.0 140.3V159.9" stroke="#000" stroke-width="1.8"/><rect x="577.0" y="160.9" width="2.0" height="2.6" fill="#000"/><path d="M578.0 168.4V200.1" stroke="#000" stroke-width="1.8"/><path d="M578.0 190.0V265.8" stroke="#000" stroke-width="1.8"/><rect x="577.0" y="271.5" width="2.0" height="2.6" fill="#000"/><path d="M578.0 285.4V288.2" stroke="#000" stroke-width="1.8"/><path d="M578.0 445.9V490.8" stroke="#000" stroke-width="1.8"/><rect x="577.0" y="509.2" width="2.0" height="2.6" fill="#000"/><rect x="577.0" y="512.0" width="2.0" height="2.6" fill="#000"/><rect x="577.0" y="568.1" width="2.0" height="2.6" fill="#000"/><path d="M578.0 288.8V347.7" stroke="#000" stroke-width="1.6" stroke-dasharray="6.8 5.7"/><path d="M578.0 445.4V387.0" stroke="#000" stroke-width="1.6" stroke-dasharray="6.8 5.7"/><rect x="573.2" y="347.7" width="9.6" height="39.3" fill="#d3d3d3"/><path d="M572.8 377.2H583.2" stroke="#f00" stroke-width="4.8"/><rect x="573.2" y="347.7" width="9.6" height="39.3" stroke="#000" stroke-width="1.6"/><path d="M575.2 288.8H580.7" stroke="#000" stroke-width="1.6"/><path d="M575.2 445.4H580.7" stroke="#000" stroke-width="1.6"/><rect x="595.9" y="178.8" width="2.0" height="2.6" fill="#000"/><path d="M596.9 211.0V246.1" stroke="#000" stroke-width="1.8"/><path d="M596.9 246.1V265.8" stroke="#000" stroke-width="1.8" stroke-dasharray="3.4 2.2"/><path d="M596.9 457.2V488.0" stroke="#000" stroke-width="1.8"/><rect x="595.9" y="524.0" width="2.0" height="2.6" fill="#000"/><path d="M596.9 270.8V340.1" stroke="#000" stroke-width="1.6" stroke-dasharray="6.8 5.7"/><path d="M596.9 455.8V386.3" stroke="#000" stroke-width="1.6" stroke-dasharray="6.8 5.7"/><rect x="592.1" y="340.1" width="9.6" height="46.2" fill="#d3d3d3"/><path d="M591.7 377.2H602.1" stroke="#f00" stroke-width="4.8"/><rect x="592.1" y="340.1" width="9.6" height="46.2" stroke="#000" stroke-width="1.6"/><path d="M594.1 270.8H599.6" stroke="#000" stroke-width="1.6"/><path d="M594.1 455.8H599.6" stroke="#000" stroke-width="1.6"/><rect x="614.8" y="223.2" width="2.0" height="2.6" fill="#000"/><rect x="614.8" y="242.0" width="2.0" height="2.6" fill="#000"/><rect x="614.8" y="247.6" width="2.0" height="2.6" fill="#000"/><rect x="614.8" y="260.3" width="2.0" height="2.6" fill="#000"/><path d="M615.8 302.2V317.7" stroke="#000" stroke-width="1.8"/><path d="M615.8 426.3V488.0" stroke="#000" stroke-width="1.8"/><path d="M615.8 321.3V359.8" stroke="#000" stroke-width="1.6" stroke-dasharray="6.8 5.7"/><path d="M615.8 424.9V386.3" stroke="#000" stroke-width="1.6" stroke-dasharray="6.8 5.7"/><rect x="611.0" y="359.8" width="9.6" height="26.5" fill="#d3d3d3"/><path d="M610.6 377.2H621.0" stroke="#f00" stroke-width="4.8"/><rect x="611.0" y="359.8" width="9.6" height="26.5" stroke="#000" stroke-width="1.6"/><path d="M613.1 321.3H618.6" stroke="#000" stroke-width="1.6"/><path d="M613.1 424.9H618.6" stroke="#000" stroke-width="1.6"/><path d="M634.8 78.6V173.1" stroke="#000" stroke-width="1.6" stroke-dasharray="6.8 5.7"/><path d="M634.8 436.1V385.0" stroke="#000" stroke-width="1.6" stroke-dasharray="6.8 5.7"/><rect x="630.0" y="173.1" width="9.6" height="211.9" fill="#d3d3d3"/><path d="M629.6 375.8H640.0" stroke="#f00" stroke-width="4.8"/><rect x="630.0" y="173.1" width="9.6" height="211.9" stroke="#000" stroke-width="1.6"/><path d="M632.0 78.6H637.5" stroke="#000" stroke-width="1.6"/><path d="M632.0 436.1H637.5" stroke="#000" stroke-width="1.6"/><rect x="652.7" y="145.2" width="2.0" height="2.6" fill="#000"/><path d="M653.7 148.7V152.9" stroke="#000" stroke-width="1.8"/><rect x="652.7" y="160.0" width="2.0" height="2.6" fill="#000"/><rect x="652.7" y="167.1" width="2.0" height="2.6" fill="#000"/><rect x="652.7" y="180.5" width="2.0" height="2.6" fill="#000"/><rect x="652.7" y="195.1" width="2.0" height="2.6" fill="#000"/><rect x="652.7" y="194.3" width="2.0" height="2.6" fill="#000"/><rect x="652.7" y="199.9" width="2.0" height="2.6" fill="#000"/><path d="M653.7 204.0V237.7" stroke="#000" stroke-width="1.8"/><rect x="652.7" y="249.0" width="2.0" height="2.6" fill="#000"/><rect x="652.7" y="459.2" width="2.0" height="2.6" fill="#000"/><path d="M653.7 310.7V354.1" stroke="#000" stroke-width="1.6" stroke-dasharray="6.8 5.7"/><path d="M653.7 432.8V385.0" stroke="#000" stroke-width="1.6" stroke-dasharray="6.8 5.7"/><rect x="648.9" y="354.1" width="9.6" height="30.9" fill="#d3d3d3"/><path d="M648.5 375.8H658.9" stroke="#f00" stroke-width="4.8"/><rect x="648.9" y="354.1" width="9.6" height="30.9" stroke="#000" stroke-width="1.6"/><path d="M650.9 310.7H656.4" stroke="#000" stroke-width="1.6"/><path d="M650.9 432.8H656.4" stroke="#000" stroke-width="1.6"/><path d="M672.6 119.3V220.3" stroke="#000" stroke-width="1.6" stroke-dasharray="6.8 5.7"/><path d="M672.6 579.3V386.3" stroke="#000" stroke-width="1.6" stroke-dasharray="6.8 5.7"/><rect x="667.8" y="220.3" width="9.6" height="166.0" fill="#d3d3d3"/><path d="M667.4 371.0H677.8" stroke="#f00" stroke-width="4.8"/><rect x="667.8" y="220.3" width="9.6" height="166.0" stroke="#000" stroke-width="1.6"/><path d="M669.9 119.3H675.4" stroke="#000" stroke-width="1.6"/><path d="M669.9 579.3H675.4" stroke="#000" stroke-width="1.6"/><rect x="690.6" y="183.9" width="2.0" height="2.6" fill="#000"/><path d="M691.6 190.8V200.1" stroke="#000" stroke-width="1.8"/><path d="M691.6 190.0V253.1" stroke="#000" stroke-width="1.8"/><rect x="690.6" y="257.4" width="2.0" height="2.6" fill="#000"/><rect x="690.6" y="501.3" width="2.0" height="2.6" fill="#000"/><rect x="690.6" y="509.2" width="2.0" height="2.6" fill="#000"/><rect x="690.6" y="512.0" width="2.0" height="2.6" fill="#000"/><path d="M691.6 265.8V336.7" stroke="#000" stroke-width="1.6" stroke-dasharray="6.8 5.7"/><path d="M691.6 436.1V385.0" stroke="#000" stroke-width="1.6" stroke-dasharray="6.8 5.7"/><rect x="686.8" y="336.7" width="9.6" height="48.3" fill="#d3d3d3"/><path d="M686.4 364.8H696.8" stroke="#f00" stroke-width="4.8"/><rect x="686.8" y="336.7" width="9.6" height="48.3" stroke="#000" stroke-width="1.6"/><path d="M688.8 265.8H694.3" stroke="#000" stroke-width="1.6"/><path d="M688.8 436.1H694.3" stroke="#000" stroke-width="1.6"/><rect x="709.5" y="434.8" width="2.0" height="2.6" fill="#000"/><rect x="709.5" y="443.8" width="2.0" height="2.6" fill="#000"/><rect x="709.5" y="465.1" width="2.0" height="2.6" fill="#000"/><path d="M710.5 510.5V517.5" stroke="#000" stroke-width="1.8"/><rect x="709.5" y="568.1" width="2.0" height="2.6" fill="#000"/><path d="M710.5 312.1V352.2" stroke="#000" stroke-width="1.6" stroke-dasharray="6.8 5.7"/><path d="M710.5 431.3V385.0" stroke="#000" stroke-width="1.6" stroke-dasharray="6.8 5.7"/><rect x="705.7" y="352.2" width="9.6" height="32.8" fill="#d3d3d3"/><path d="M705.3 364.8H715.7" stroke="#f00" stroke-width="4.8"/><rect x="705.7" y="352.2" width="9.6" height="32.8" stroke="#000" stroke-width="1.6"/><path d="M707.7 312.1H713.2" stroke="#000" stroke-width="1.6"/><path d="M707.7 431.3H713.2" stroke="#000" stroke-width="1.6"/><path d="M729.4 130.5V136.1" stroke="#000" stroke-width="1.8"/><path d="M729.4 143.1V168.4" stroke="#000" stroke-width="1.8"/><path d="M729.4 168.4V200.1" stroke="#000" stroke-width="1.8" stroke-dasharray="3.4 2.2"/><path d="M729.4 190.0V257.3" stroke="#000" stroke-width="1.8"/><path d="M729.4 471.2V495.0" stroke="#000" stroke-width="1.8"/><path d="M729.4 509.1V514.7" stroke="#000" stroke-width="1.8"/><rect x="728.4" y="521.8" width="2.0" height="2.6" fill="#000"/><rect x="728.4" y="533.0" width="2.0" height="2.6" fill="#000"/><path d="M729.4 542.7V554.0" stroke="#000" stroke-width="1.8" stroke-dasharray="3.4 2.2"/><path d="M729.4 554.0V571.5" stroke="#000" stroke-width="1.8"/><path d="M729.4 259.6V336.7" stroke="#000" stroke-width="1.6" stroke-dasharray="6.8 5.7"/><path d="M729.4 469.8V389.5" stroke="#000" stroke-width="1.6" stroke-dasharray="6.8 5.7"/><rect x="724.6" y="336.7" width="9.6" height="52.8" fill="#d3d3d3"/><path d="M724.2 363.4H734.6" stroke="#f00" stroke-width="4.8"/><rect x="724.6" y="336.7" width="9.6" height="52.8" stroke="#000" stroke-width="1.6"/><path d="M726.7 259.6H732.2" stroke="#000" stroke-width="1.6"/><path d="M726.7 469.8H732.2" stroke="#000" stroke-width="1.6"/><path d="M748.4 249.5V258.7" stroke="#000" stroke-width="1.8"/><path d="M748.4 307.3V326.1" stroke="#000" stroke-width="1.8"/><path d="M748.4 419.3V488.0" stroke="#000" stroke-width="1.8"/><path d="M748.4 327.5V359.8" stroke="#000" stroke-width="1.6" stroke-dasharray="6.8 5.7"/><path d="M748.4 418.7V383.5" stroke="#000" stroke-width="1.6" stroke-dasharray="6.8 5.7"/><rect x="743.6" y="359.8" width="9.6" height="23.7" fill="#d3d3d3"/><path d="M743.2 363.4H753.6" stroke="#f00" stroke-width="4.8"/><rect x="743.6" y="359.8" width="9.6" height="23.7" stroke="#000" stroke-width="1.6"/><path d="M745.6 327.5H751.1" stroke="#000" stroke-width="1.6"/><path d="M745.6 418.7H751.1" stroke="#000" stroke-width="1.6"/><rect x="766.3" y="186.1" width="2.0" height="2.6" fill="#000"/><rect x="766.3" y="214.8" width="2.0" height="2.6" fill="#000"/><rect x="766.3" y="237.8" width="2.0" height="2.6" fill="#000"/><path d="M767.3 307.3V331.7" stroke="#000" stroke-width="1.8" stroke-dasharray="3.4 2.2"/><path d="M767.3 403.9V433.3" stroke="#000" stroke-width="1.8"/><rect x="766.3" y="437.6" width="2.0" height="2.6" fill="#000"/><rect x="766.3" y="446.0" width="2.0" height="2.6" fill="#000"/><rect x="766.3" y="454.5" width="2.0" height="2.6" fill="#000"/><rect x="766.3" y="568.1" width="2.0" height="2.6" fill="#000"/><path d="M767.3 332.5V360.3" stroke="#000" stroke-width="1.6" stroke-dasharray="6.8 5.7"/><path d="M767.3 401.9V377.4" stroke="#000" stroke-width="1.6" stroke-dasharray="6.8 5.7"/><rect x="762.5" y="360.3" width="9.6" height="17.1" fill="#d3d3d3"/><path d="M762.1 362.6H772.5" stroke="#f00" stroke-width="4.8"/><rect x="762.5" y="360.3" width="9.6" height="17.1" stroke="#000" stroke-width="1.6"/><path d="M764.5 332.5H770.0" stroke="#000" stroke-width="1.6"/><path d="M764.5 401.9H770.0" stroke="#000" stroke-width="1.6"/><rect x="785.2" y="242.0" width="2.0" height="2.6" fill="#000"/><path d="M786.2 426.3V488.0" stroke="#000" stroke-width="1.8"/><path d="M786.2 307.8V352.7" stroke="#000" stroke-width="1.6" stroke-dasharray="6.8 5.7"/><path d="M786.2 426.3V382.2" stroke="#000" stroke-width="1.6" stroke-dasharray="6.8 5.7"/><rect x="781.4" y="352.7" width="9.6" height="29.5" fill="#d3d3d3"/><path d="M781.0 361.7H791.4" stroke="#f00" stroke-width="4.8"/><rect x="781.4" y="352.7" width="9.6" height="29.5" stroke="#000" stroke-width="1.6"/><path d="M783.5 307.8H789.0" stroke="#000" stroke-width="1.6"/><path d="M783.5 426.3H789.0" stroke="#000" stroke-width="1.6"/><rect x="804.2" y="190.9" width="2.0" height="2.6" fill="#000"/><path d="M805.2 196.4V200.1" stroke="#000" stroke-width="1.8"/><rect x="804.2" y="191.5" width="2.0" height="2.6" fill="#000"/><rect x="804.2" y="197.1" width="2.0" height="2.6" fill="#000"/><path d="M805.2 209.6V226.5" stroke="#000" stroke-width="1.8"/><path d="M805.2 226.5V251.7" stroke="#000" stroke-width="1.8" stroke-dasharray="3.4 2.2"/><path d="M805.2 254.5V296.6" stroke="#000" stroke-width="1.8" stroke-dasharray="3.4 2.2"/><path d="M805.2 302.2V316.3" stroke="#000" stroke-width="1.8"/><path d="M805.2 392.6V488.0" stroke="#000" stroke-width="1.8"/><path d="M805.2 317.7V346.3" stroke="#000" stroke-width="1.6" stroke-dasharray="6.8 5.7"/><path d="M805.2 391.8V364.8" stroke="#000" stroke-width="1.6" stroke-dasharray="6.8 5.7"/><rect x="800.4" y="346.3" width="9.6" height="18.5" fill="#d3d3d3"/><path d="M800.0 360.3H810.4" stroke="#f00" stroke-width="4.8"/><rect x="800.4" y="346.3" width="9.6" height="18.5" stroke="#000" stroke-width="1.6"/><path d="M802.4 317.7H807.9" stroke="#000" stroke-width="1.6"/><path d="M802.4 391.8H807.9" stroke="#000" stroke-width="1.6"/><rect x="823.1" y="249.9" width="2.0" height="2.6" fill="#000"/><rect x="823.1" y="271.5" width="2.0" height="2.6" fill="#000"/><rect x="823.1" y="284.1" width="2.0" height="2.6" fill="#000"/><path d="M824.1 304.5V351.3" stroke="#000" stroke-width="1.8"/><path d="M824.1 369.6V390.1" stroke="#000" stroke-width="1.8"/><path d="M824.1 380.0V394.0" stroke="#000" stroke-width="1.8"/><path d="M824.1 395.4V430.5" stroke="#000" stroke-width="1.8" stroke-dasharray="3.4 2.2"/><rect x="823.1" y="459.2" width="2.0" height="2.6" fill="#000"/><path d="M824.1 352.2V358.9" stroke="#000" stroke-width="1.6" stroke-dasharray="6.8 5.7"/><path d="M824.1 365.4V361.7" stroke="#000" stroke-width="1.6" stroke-dasharray="6.8 5.7"/><rect x="819.3" y="358.9" width="9.6" height="2.8" fill="#d3d3d3"/><path d="M818.9 360.3H829.3" stroke="#f00" stroke-width="4.8"/><rect x="819.3" y="358.9" width="9.6" height="2.8" stroke="#000" stroke-width="1.6"/><path d="M821.3 352.2H826.8" stroke="#000" stroke-width="1.6"/><path d="M821.3 365.4H826.8" stroke="#000" stroke-width="1.6"/><rect x="842.0" y="182.5" width="2.0" height="2.6" fill="#000"/><rect x="842.0" y="189.5" width="2.0" height="2.6" fill="#000"/><path d="M843.0 196.4V200.1" stroke="#000" stroke-width="1.8"/><path d="M843.0 190.0V195.6" stroke="#000" stroke-width="1.8"/><path d="M843.0 205.4V251.7" stroke="#000" stroke-width="1.8" stroke-dasharray="3.4 2.2"/><path d="M843.0 461.4V495.0" stroke="#000" stroke-width="1.8" stroke-dasharray="3.4 2.2"/><path d="M843.0 507.7V517.5" stroke="#000" stroke-width="1.8"/><path d="M843.0 259.6V333.9" stroke="#000" stroke-width="1.6" stroke-dasharray="6.8 5.7"/><path d="M843.0 459.4V384.6" stroke="#000" stroke-width="1.6" stroke-dasharray="6.8 5.7"/><rect x="838.2" y="333.9" width="9.6" height="50.7" fill="#d3d3d3"/><path d="M837.8 358.4H848.2" stroke="#f00" stroke-width="4.8"/><rect x="838.2" y="333.9" width="9.6" height="50.7" stroke="#000" stroke-width="1.6"/><path d="M840.3 259.6H845.8" stroke="#000" stroke-width="1.6"/><path d="M840.3 459.4H845.8" stroke="#000" stroke-width="1.6"/><rect x="861.0" y="215.9" width="2.0" height="2.6" fill="#000"/><rect x="861.0" y="222.4" width="2.0" height="2.6" fill="#000"/><rect x="861.0" y="271.5" width="2.0" height="2.6" fill="#000"/><rect x="861.0" y="319.2" width="2.0" height="2.6" fill="#000"/><rect x="861.0" y="358.5" width="2.0" height="2.6" fill="#000"/><path d="M862.0 462.8V471.2" stroke="#000" stroke-width="1.8"/><path d="M862.0 331.1V338.7" stroke="#000" stroke-width="1.6" stroke-dasharray="6.8 5.7"/><path d="M862.0 355.5V346.6" stroke="#000" stroke-width="1.6" stroke-dasharray="6.8 5.7"/><rect x="857.2" y="338.7" width="9.6" height="7.9" fill="#d3d3d3"/><path d="M856.8 341.5H867.2" stroke="#f00" stroke-width="4.8"/><rect x="857.2" y="338.7" width="9.6" height="7.9" stroke="#000" stroke-width="1.6"/><path d="M859.2 331.1H864.7" stroke="#000" stroke-width="1.6"/><path d="M859.2 355.5H864.7" stroke="#000" stroke-width="1.6"/><path d="M880.9 136.1V243.9" stroke="#000" stroke-width="1.6" stroke-dasharray="6.8 5.7"/><path d="M880.9 467.0V382.2" stroke="#000" stroke-width="1.6" stroke-dasharray="6.8 5.7"/><rect x="876.1" y="243.9" width="9.6" height="138.4" fill="#d3d3d3"/><path d="M875.7 340.1H886.1" stroke="#f00" stroke-width="4.8"/><rect x="876.1" y="243.9" width="9.6" height="138.4" stroke="#000" stroke-width="1.6"/><path d="M878.1 136.1H883.6" stroke="#000" stroke-width="1.6"/><path d="M878.1 467.0H883.6" stroke="#000" stroke-width="1.6"/><rect x="898.8" y="190.9" width="2.0" height="2.6" fill="#000"/><path d="M899.8 196.4V200.1" stroke="#000" stroke-width="1.8"/><rect x="898.8" y="191.5" width="2.0" height="2.6" fill="#000"/><rect x="898.8" y="197.1" width="2.0" height="2.6" fill="#000"/><path d="M899.8 209.6V240.5" stroke="#000" stroke-width="1.8"/><path d="M899.8 243.3V288.2" stroke="#000" stroke-width="1.8" stroke-dasharray="3.4 2.2"/><path d="M899.8 310.7V324.7" stroke="#000" stroke-width="1.8"/><path d="M899.8 354.1V390.1" stroke="#000" stroke-width="1.8"/><path d="M899.8 380.0V394.0" stroke="#000" stroke-width="1.8"/><path d="M899.8 399.6V467.0" stroke="#000" stroke-width="1.8" stroke-dasharray="3.4 2.2"/><path d="M899.8 328.1V336.7" stroke="#000" stroke-width="1.6" stroke-dasharray="6.8 5.7"/><path d="M899.8 349.4V343.5" stroke="#000" stroke-width="1.6" stroke-dasharray="6.8 5.7"/><rect x="895.0" y="336.7" width="9.6" height="6.7" fill="#d3d3d3"/><path d="M894.6 340.1H905.0" stroke="#f00" stroke-width="4.8"/><rect x="895.0" y="336.7" width="9.6" height="6.7" stroke="#000" stroke-width="1.6"/><path d="M897.1 328.1H902.6" stroke="#000" stroke-width="1.6"/><path d="M897.1 349.4H902.6" stroke="#000" stroke-width="1.6"/><path d="M918.8 298.0V316.3" stroke="#000" stroke-width="1.8"/><path d="M918.8 380.8V390.1" stroke="#000" stroke-width="1.8"/><path d="M918.8 380.0V389.8" stroke="#000" stroke-width="1.8"/><rect x="917.8" y="406.8" width="2.0" height="2.6" fill="#000"/><rect x="917.8" y="413.8" width="2.0" height="2.6" fill="#000"/><path d="M918.8 422.1V430.5" stroke="#000" stroke-width="1.8"/><rect x="917.8" y="433.4" width="2.0" height="2.6" fill="#000"/><path d="M918.8 444.5V453.0" stroke="#000" stroke-width="1.8"/><path d="M918.8 458.6V467.0" stroke="#000" stroke-width="1.8"/><path d="M918.8 485.2V495.0" stroke="#000" stroke-width="1.8"/><path d="M918.8 509.1V517.5" stroke="#000" stroke-width="1.8"/><path d="M918.8 524.5V530.1" stroke="#000" stroke-width="1.8"/><rect x="917.8" y="532.2" width="2.0" height="2.6" fill="#000"/><path d="M918.8 317.7V333.9" stroke="#000" stroke-width="1.6" stroke-dasharray="6.8 5.7"/><path d="M918.8 364.8V349.4" stroke="#000" stroke-width="1.6" stroke-dasharray="6.8 5.7"/><rect x="914.0" y="333.9" width="9.6" height="15.4" fill="#d3d3d3"/><path d="M913.6 337.9H924.0" stroke="#f00" stroke-width="4.8"/><rect x="914.0" y="333.9" width="9.6" height="15.4" stroke="#000" stroke-width="1.6"/><path d="M916.0 317.7H921.5" stroke="#000" stroke-width="1.6"/><path d="M916.0 364.8H921.5" stroke="#000" stroke-width="1.6"/><rect x="936.7" y="182.5" width="2.0" height="2.6" fill="#000"/><path d="M937.7 192.2V200.1" stroke="#000" stroke-width="1.8"/><path d="M937.7 192.8V209.6" stroke="#000" stroke-width="1.8"/><path d="M937.7 218.1V263.0" stroke="#000" stroke-width="1.8" stroke-dasharray="3.4 2.2"/><rect x="936.7" y="426.4" width="2.0" height="2.6" fill="#000"/><rect x="936.7" y="430.6" width="2.0" height="2.6" fill="#000"/><rect x="936.7" y="459.2" width="2.0" height="2.6" fill="#000"/><path d="M937.7 286.2V310.7" stroke="#000" stroke-width="1.6" stroke-dasharray="6.8 5.7"/><path d="M937.7 383.2V342.1" stroke="#000" stroke-width="1.6" stroke-dasharray="6.8 5.7"/><rect x="932.9" y="310.7" width="9.6" height="31.4" fill="#d3d3d3"/><path d="M932.5 338.7H942.9" stroke="#f00" stroke-width="4.8"/><rect x="932.9" y="310.7" width="9.6" height="31.4" stroke="#000" stroke-width="1.6"/><path d="M934.9 286.2H940.4" stroke="#000" stroke-width="1.6"/><path d="M934.9 383.2H940.4" stroke="#000" stroke-width="1.6"/><rect x="955.6" y="150.2" width="2.0" height="2.6" fill="#000"/><rect x="955.6" y="158.6" width="2.0" height="2.6" fill="#000"/><path d="M956.6 183.8V200.1" stroke="#000" stroke-width="1.8"/><path d="M956.6 190.0V198.4" stroke="#000" stroke-width="1.8"/><rect x="955.6" y="201.3" width="2.0" height="2.6" fill="#000"/><rect x="955.6" y="205.5" width="2.0" height="2.6" fill="#000"/><rect x="955.6" y="429.2" width="2.0" height="2.6" fill="#000"/><rect x="955.6" y="432.6" width="2.0" height="2.6" fill="#000"/><rect x="955.6" y="568.1" width="2.0" height="2.6" fill="#000"/><path d="M956.6 225.9V290.5" stroke="#000" stroke-width="1.6" stroke-dasharray="6.8 5.7"/><path d="M956.6 424.9V344.3" stroke="#000" stroke-width="1.6" stroke-dasharray="6.8 5.7"/><rect x="951.8" y="290.5" width="9.6" height="53.9" fill="#d3d3d3"/><path d="M951.4 332.5H961.8" stroke="#f00" stroke-width="4.8"/><rect x="951.8" y="290.5" width="9.6" height="53.9" stroke="#000" stroke-width="1.6"/><path d="M953.9 225.9H959.4" stroke="#000" stroke-width="1.6"/><path d="M953.9 424.9H959.4" stroke="#000" stroke-width="1.6"/><path d="M975.6 202.6V227.0" stroke="#000" stroke-width="1.6" stroke-dasharray="6.8 5.7"/><path d="M975.6 482.4V341.5" stroke="#000" stroke-width="1.6" stroke-dasharray="6.8 5.7"/><rect x="970.8" y="227.0" width="9.6" height="114.5" fill="#d3d3d3"/><path d="M970.4 329.5H980.8" stroke="#f00" stroke-width="4.8"/><rect x="970.8" y="227.0" width="9.6" height="114.5" stroke="#000" stroke-width="1.6"/><path d="M972.8 202.6H978.3" stroke="#000" stroke-width="1.6"/><path d="M972.8 482.4H978.3" stroke="#000" stroke-width="1.6"/><path d="M994.5 146.7V238.3" stroke="#000" stroke-width="1.6" stroke-dasharray="6.8 5.7"/><path d="M994.5 460.8V338.7" stroke="#000" stroke-width="1.6" stroke-dasharray="6.8 5.7"/><rect x="989.7" y="238.3" width="9.6" height="100.5" fill="#d3d3d3"/><path d="M989.3 312.1H999.7" stroke="#f00" stroke-width="4.8"/><rect x="989.7" y="238.3" width="9.6" height="100.5" stroke="#000" stroke-width="1.6"/><path d="M991.7 146.7H997.2" stroke="#000" stroke-width="1.6"/><path d="M991.7 460.8H997.2" stroke="#000" stroke-width="1.6"/><path d="M1013.4 140.3V144.5" stroke="#000" stroke-width="1.8"/><path d="M1013.4 147.3V151.5" stroke="#000" stroke-width="1.8"/><rect x="1012.4" y="566.1" width="2.0" height="2.6" fill="#000"/><path d="M1013.4 162.7V263.0" stroke="#000" stroke-width="1.6" stroke-dasharray="6.8 5.7"/><path d="M1013.4 363.4V332.5" stroke="#000" stroke-width="1.6" stroke-dasharray="6.8 5.7"/><rect x="1008.6" y="263.0" width="9.6" height="69.6" fill="#d3d3d3"/><path d="M1008.2 310.7H1018.6" stroke="#f00" stroke-width="4.8"/><rect x="1008.6" y="263.0" width="9.6" height="69.6" stroke="#000" stroke-width="1.6"/><path d="M1010.7 162.7H1016.2" stroke="#000" stroke-width="1.6"/><path d="M1010.7 363.4H1016.2" stroke="#000" stroke-width="1.6"/><path d="M1032.3 479.6V488.0" stroke="#000" stroke-width="1.8"/><rect x="1031.3" y="509.7" width="2.0" height="2.6" fill="#000"/><rect x="1031.3" y="568.1" width="2.0" height="2.6" fill="#000"/><path d="M1032.3 185.2V242.8" stroke="#000" stroke-width="1.6" stroke-dasharray="6.8 5.7"/><path d="M1032.3 468.4V335.9" stroke="#000" stroke-width="1.6" stroke-dasharray="6.8 5.7"/><rect x="1027.5" y="242.8" width="9.6" height="93.2" fill="#d3d3d3"/><path d="M1027.1 245.6H1037.5" stroke="#f00" stroke-width="4.8"/><rect x="1027.5" y="242.8" width="9.6" height="93.2" stroke="#000" stroke-width="1.6"/><path d="M1029.6 185.2H1035.1" stroke="#000" stroke-width="1.6"/><path d="M1029.6 468.4H1035.1" stroke="#000" stroke-width="1.6"/><rect x="1050.3" y="566.1" width="2.0" height="2.6" fill="#000"/><path d="M1051.3 142.5V220.9" stroke="#000" stroke-width="1.6" stroke-dasharray="6.8 5.7"/><path d="M1051.3 519.5V343.5" stroke="#000" stroke-width="1.6" stroke-dasharray="6.8 5.7"/><rect x="1046.5" y="220.9" width="9.6" height="122.6" fill="#d3d3d3"/><path d="M1046.1 239.7H1056.5" stroke="#f00" stroke-width="4.8"/><rect x="1046.5" y="220.9" width="9.6" height="122.6" stroke="#000" stroke-width="1.6"/><path d="M1048.5 142.5H1054.0" stroke="#000" stroke-width="1.6"/><path d="M1048.5 519.5H1054.0" stroke="#000" stroke-width="1.6"/><path d="M1070.2 133.3V173.1" stroke="#000" stroke-width="1.6" stroke-dasharray="6.8 5.7"/><path d="M1070.2 527.3V326.6" stroke="#000" stroke-width="1.6" stroke-dasharray="6.8 5.7"/><rect x="1065.4" y="173.1" width="9.6" height="153.5" fill="#d3d3d3"/><path d="M1065.0 225.6H1075.4" stroke="#f00" stroke-width="4.8"/><rect x="1065.4" y="173.1" width="9.6" height="153.5" stroke="#000" stroke-width="1.6"/><path d="M1067.5 133.3H1073.0" stroke="#000" stroke-width="1.6"/><path d="M1067.5 527.3H1073.0" stroke="#000" stroke-width="1.6"/><rect x="1088.1" y="183.0" width="2.0" height="2.6" fill="#000"/><rect x="1088.1" y="284.1" width="2.0" height="2.6" fill="#000"/><path d="M1089.1 291.0V313.5" stroke="#000" stroke-width="1.8" stroke-dasharray="3.4 2.2"/><path d="M1089.1 313.5V345.7" stroke="#000" stroke-width="1.8"/><rect x="1088.1" y="404.5" width="2.0" height="2.6" fill="#000"/><rect x="1088.1" y="430.6" width="2.0" height="2.6" fill="#000"/><rect x="1088.1" y="459.2" width="2.0" height="2.6" fill="#000"/><rect x="1088.1" y="509.7" width="2.0" height="2.6" fill="#000"/><path d="M1089.1 195.0V218.9" stroke="#000" stroke-width="1.6" stroke-dasharray="6.8 5.7"/><path d="M1089.1 272.2V239.7" stroke="#000" stroke-width="1.6" stroke-dasharray="6.8 5.7"/><rect x="1084.3" y="218.9" width="9.6" height="20.8" fill="#d3d3d3"/><path d="M1083.9 221.7H1094.3" stroke="#f00" stroke-width="4.8"/><rect x="1084.3" y="218.9" width="9.6" height="20.8" stroke="#000" stroke-width="1.6"/><path d="M1086.4 195.0H1091.9" stroke="#000" stroke-width="1.6"/><path d="M1086.4 272.2H1091.9" stroke="#000" stroke-width="1.6"/><path d="M1108.1 140.3V148.7" stroke="#000" stroke-width="1.8"/><path d="M1108.1 152.9V165.5" stroke="#000" stroke-width="1.8"/><path d="M1108.1 179.6V190.8" stroke="#000" stroke-width="1.8"/><path d="M1108.1 193.6V200.1" stroke="#000" stroke-width="1.8"/><path d="M1108.1 190.0V197.0" stroke="#000" stroke-width="1.8"/><path d="M1108.1 201.2V212.4" stroke="#000" stroke-width="1.8"/><path d="M1108.1 226.5V250.3" stroke="#000" stroke-width="1.8"/><rect x="1107.1" y="256.0" width="2.0" height="2.6" fill="#000"/><path d="M1108.1 274.2V321.9" stroke="#000" stroke-width="1.8" stroke-dasharray="3.4 2.2"/><rect x="1107.1" y="334.6" width="2.0" height="2.6" fill="#000"/><rect x="1107.1" y="342.5" width="2.0" height="2.6" fill="#000"/><path d="M1108.1 359.8V369.6" stroke="#000" stroke-width="1.8"/><rect x="1107.1" y="372.5" width="2.0" height="2.6" fill="#000"/><rect x="1107.1" y="376.7" width="2.0" height="2.6" fill="#000"/><path d="M1108.1 213.3V218.1" stroke="#000" stroke-width="1.6" stroke-dasharray="6.8 5.7"/><path d="M1108.1 225.1V222.3" stroke="#000" stroke-width="1.6" stroke-dasharray="6.8 5.7"/><rect x="1103.3" y="218.1" width="9.6" height="4.2" fill="#d3d3d3"/><path d="M1102.9 220.0H1113.3" stroke="#f00" stroke-width="4.8"/><rect x="1103.3" y="218.1" width="9.6" height="4.2" stroke="#000" stroke-width="1.6"/><path d="M1105.3 213.3H1110.8" stroke="#000" stroke-width="1.6"/><path d="M1105.3 225.1H1110.8" stroke="#000" stroke-width="1.6"/><path d="M1127.0 72.4V112.2" stroke="#000" stroke-width="1.8" stroke-dasharray="3.4 2.2"/><path d="M1127.0 112.2V126.3" stroke="#000" stroke-width="1.8" stroke-dasharray="3.4 2.2"/><path d="M1127.0 126.3V141.7" stroke="#000" stroke-width="1.8"/><path d="M1127.0 288.2V302.2" stroke="#000" stroke-width="1.8"/><path d="M1127.0 305.0V324.7" stroke="#000" stroke-width="1.8"/><rect x="1126.0" y="335.2" width="2.0" height="2.6" fill="#000"/><path d="M1127.0 475.4V483.3" stroke="#000" stroke-width="1.8"/><rect x="1126.0" y="562.5" width="2.0" height="2.6" fill="#000"/><rect x="1126.0" y="566.1" width="2.0" height="2.6" fill="#000"/><path d="M1127.0 142.5V197.8" stroke="#000" stroke-width="1.6" stroke-dasharray="6.8 5.7"/><path d="M1127.0 287.6V234.9" stroke="#000" stroke-width="1.6" stroke-dasharray="6.8 5.7"/><rect x="1122.2" y="197.8" width="9.6" height="37.1" fill="#d3d3d3"/><path d="M1121.8 218.1H1132.2" stroke="#f00" stroke-width="4.8"/><rect x="1122.2" y="197.8" width="9.6" height="37.1" stroke="#000" stroke-width="1.6"/><path d="M1124.3 142.5H1129.8" stroke="#000" stroke-width="1.6"/><path d="M1124.3 287.6H1129.8" stroke="#000" stroke-width="1.6"/><rect x="1144.9" y="310.8" width="2.0" height="2.6" fill="#000"/><rect x="1144.9" y="316.4" width="2.0" height="2.6" fill="#000"/><rect x="1144.9" y="338.3" width="2.0" height="2.6" fill="#000"/><path d="M1145.9 146.7V188.6" stroke="#000" stroke-width="1.6" stroke-dasharray="6.8 5.7"/><path d="M1145.9 305.6V234.9" stroke="#000" stroke-width="1.6" stroke-dasharray="6.8 5.7"/><rect x="1141.1" y="188.6" width="9.6" height="46.3" fill="#d3d3d3"/><path d="M1140.7 215.3H1151.1" stroke="#f00" stroke-width="4.8"/><rect x="1141.1" y="188.6" width="9.6" height="46.3" stroke="#000" stroke-width="1.6"/><path d="M1143.2 146.7H1148.7" stroke="#000" stroke-width="1.6"/><path d="M1143.2 305.6H1148.7" stroke="#000" stroke-width="1.6"/><path d="M1164.9 79.4V131.0" stroke="#000" stroke-width="1.6" stroke-dasharray="6.8 5.7"/><path d="M1164.9 287.4V230.1" stroke="#000" stroke-width="1.6" stroke-dasharray="6.8 5.7"/><rect x="1160.1" y="131.0" width="9.6" height="99.1" fill="#d3d3d3"/><path d="M1159.7 199.2H1170.1" stroke="#f00" stroke-width="4.8"/><rect x="1160.1" y="131.0" width="9.6" height="99.1" stroke="#000" stroke-width="1.6"/><path d="M1162.1 79.4H1167.6" stroke="#000" stroke-width="1.6"/><path d="M1162.1 287.4H1167.6" stroke="#000" stroke-width="1.6"/><rect x="1182.8" y="129.2" width="2.0" height="2.6" fill="#000"/><path d="M1183.8 145.9V151.5" stroke="#000" stroke-width="1.8"/><path d="M1183.8 154.3V159.9" stroke="#000" stroke-width="1.8"/><path d="M1183.8 234.9V246.1" stroke="#000" stroke-width="1.8"/><path d="M1183.8 250.3V260.1" stroke="#000" stroke-width="1.8"/><path d="M1183.8 264.4V274.2" stroke="#000" stroke-width="1.8"/><rect x="1182.8" y="317.8" width="2.0" height="2.6" fill="#000"/><rect x="1182.8" y="341.6" width="2.0" height="2.6" fill="#000"/><rect x="1182.8" y="348.6" width="2.0" height="2.6" fill="#000"/><rect x="1182.8" y="352.3" width="2.0" height="2.6" fill="#000"/><rect x="1182.8" y="512.8" width="2.0" height="2.6" fill="#000"/><rect x="1182.8" y="557.4" width="2.0" height="2.6" fill="#000"/><path d="M1183.8 162.7V188.6" stroke="#000" stroke-width="1.6" stroke-dasharray="6.8 5.7"/><path d="M1183.8 230.1V207.4" stroke="#000" stroke-width="1.6" stroke-dasharray="6.8 5.7"/><rect x="1179.0" y="188.6" width="9.6" height="18.8" fill="#d3d3d3"/><path d="M1178.6 197.7H1189.0" stroke="#f00" stroke-width="4.8"/><rect x="1179.0" y="188.6" width="9.6" height="18.8" stroke="#000" stroke-width="1.6"/><path d="M1181.1 162.7H1186.6" stroke="#000" stroke-width="1.6"/><path d="M1181.1 230.1H1186.6" stroke="#000" stroke-width="1.6"/><rect x="1201.7" y="75.9" width="2.0" height="2.6" fill="#000"/><rect x="1201.7" y="81.5" width="2.0" height="2.6" fill="#000"/><path d="M1202.7 310.7V390.1" stroke="#000" stroke-width="1.8"/><path d="M1202.7 380.0V394.0" stroke="#000" stroke-width="1.8"/><path d="M1202.7 395.4V416.5" stroke="#000" stroke-width="1.8" stroke-dasharray="3.4 2.2"/><path d="M1202.7 426.3V437.5" stroke="#000" stroke-width="1.8"/><path d="M1202.7 458.6V468.4" stroke="#000" stroke-width="1.8"/><path d="M1202.7 481.0V490.8" stroke="#000" stroke-width="1.8"/><path d="M1202.7 509.1V514.7" stroke="#000" stroke-width="1.8"/><path d="M1202.7 88.4V167.0" stroke="#000" stroke-width="1.6" stroke-dasharray="6.8 5.7"/><path d="M1202.7 310.1V224.2" stroke="#000" stroke-width="1.6" stroke-dasharray="6.8 5.7"/><rect x="1197.9" y="167.0" width="9.6" height="57.3" fill="#d3d3d3"/><path d="M1197.5 193.2H1207.9" stroke="#f00" stroke-width="4.8"/><rect x="1197.9" y="167.0" width="9.6" height="57.3" stroke="#000" stroke-width="1.6"/><path d="M1200.0 88.4H1205.5" stroke="#000" stroke-width="1.6"/><path d="M1200.0 310.1H1205.5" stroke="#000" stroke-width="1.6"/><path d="M1221.7 274.2V291.0" stroke="#000" stroke-width="1.8" stroke-dasharray="3.4 2.2"/><path d="M1221.7 307.8V319.1" stroke="#000" stroke-width="1.8"/><path d="M1221.7 330.3V358.4" stroke="#000" stroke-width="1.8"/><rect x="1220.7" y="386.5" width="2.0" height="2.6" fill="#000"/><rect x="1220.7" y="387.7" width="2.0" height="2.6" fill="#000"/><rect x="1220.7" y="428.4" width="2.0" height="2.6" fill="#000"/><path d="M1221.7 79.4V142.3" stroke="#000" stroke-width="1.6" stroke-dasharray="6.8 5.7"/><path d="M1221.7 273.3V196.3" stroke="#000" stroke-width="1.6" stroke-dasharray="6.8 5.7"/><rect x="1216.9" y="142.3" width="9.6" height="54.0" fill="#d3d3d3"/><path d="M1216.5 186.6H1226.9" stroke="#f00" stroke-width="4.8"/><rect x="1216.9" y="142.3" width="9.6" height="54.0" stroke="#000" stroke-width="1.6"/><path d="M1218.9 79.4H1224.4" stroke="#000" stroke-width="1.6"/><path d="M1218.9 273.3H1224.4" stroke="#000" stroke-width="1.6"/><path d="M1240.6 268.6V274.2" stroke="#000" stroke-width="1.8"/><rect x="1239.6" y="316.4" width="2.0" height="2.6" fill="#000"/><path d="M1240.6 136.6V167.0" stroke="#000" stroke-width="1.6" stroke-dasharray="6.8 5.7"/><path d="M1240.6 253.1V207.4" stroke="#000" stroke-width="1.6" stroke-dasharray="6.8 5.7"/><rect x="1235.8" y="167.0" width="9.6" height="40.4" fill="#d3d3d3"/><path d="M1235.4 182.4H1245.8" stroke="#f00" stroke-width="4.8"/><rect x="1235.8" y="167.0" width="9.6" height="40.4" stroke="#000" stroke-width="1.6"/><path d="M1237.9 136.6H1243.4" stroke="#000" stroke-width="1.6"/><path d="M1237.9 253.1H1243.4" stroke="#000" stroke-width="1.6"/><rect x="1258.5" y="68.8" width="2.0" height="2.6" fill="#000"/><path d="M1259.5 241.9V302.2" stroke="#000" stroke-width="1.8" stroke-dasharray="3.4 2.2"/><path d="M1259.5 302.2V324.7" stroke="#000" stroke-width="1.8"/><path d="M1259.5 330.3V342.9" stroke="#000" stroke-width="1.8"/><rect x="1258.5" y="349.2" width="2.0" height="2.6" fill="#000"/><path d="M1259.5 115.6V156.3" stroke="#000" stroke-width="1.6" stroke-dasharray="6.8 5.7"/><path d="M1259.5 241.1V190.4" stroke="#000" stroke-width="1.6" stroke-dasharray="6.8 5.7"/><rect x="1254.7" y="156.3" width="9.6" height="34.1" fill="#d3d3d3"/><path d="M1254.3 182.4H1264.7" stroke="#f00" stroke-width="4.8"/><rect x="1254.7" y="156.3" width="9.6" height="34.1" stroke="#000" stroke-width="1.6"/><path d="M1256.8 115.6H1262.3" stroke="#000" stroke-width="1.6"/><path d="M1256.8 241.1H1262.3" stroke="#000" stroke-width="1.6"/><path d="M1278.5 115.6V141.7" stroke="#000" stroke-width="1.8"/><path d="M1278.5 223.7V240.5" stroke="#000" stroke-width="1.8"/><rect x="1277.5" y="260.8" width="2.0" height="2.6" fill="#000"/><rect x="1277.5" y="274.3" width="2.0" height="2.6" fill="#000"/><rect x="1277.5" y="288.3" width="2.0" height="2.6" fill="#000"/><path d="M1278.5 296.6V307.8" stroke="#000" stroke-width="1.8" stroke-dasharray="3.4 2.2"/><path d="M1278.5 307.8V390.1" stroke="#000" stroke-width="1.8"/><path d="M1278.5 380.0V436.1" stroke="#000" stroke-width="1.8"/><path d="M1278.5 438.9V450.1" stroke="#000" stroke-width="1.8"/><rect x="1277.5" y="454.5" width="2.0" height="2.6" fill="#000"/><path d="M1278.5 461.4V467.5" stroke="#000" stroke-width="1.8"/><path d="M1278.5 483.8V488.0" stroke="#000" stroke-width="1.8"/><path d="M1278.5 545.5V554.0" stroke="#000" stroke-width="1.8"/><path d="M1278.5 142.5V171.7" stroke="#000" stroke-width="1.6" stroke-dasharray="6.8 5.7"/><path d="M1278.5 222.8V193.2" stroke="#000" stroke-width="1.6" stroke-dasharray="6.8 5.7"/><rect x="1273.7" y="171.7" width="9.6" height="21.5" fill="#d3d3d3"/><path d="M1273.3 180.4H1283.7" stroke="#f00" stroke-width="4.8"/><rect x="1273.7" y="171.7" width="9.6" height="21.5" stroke="#000" stroke-width="1.6"/><path d="M1275.7 142.5H1281.2" stroke="#000" stroke-width="1.6"/><path d="M1275.7 222.8H1281.2" stroke="#000" stroke-width="1.6"/><rect x="1296.4" y="76.4" width="2.0" height="2.6" fill="#000"/><rect x="1296.4" y="85.1" width="2.0" height="2.6" fill="#000"/><rect x="1296.4" y="109.5" width="2.0" height="2.6" fill="#000"/><path d="M1297.4 113.6V137.5" stroke="#000" stroke-width="1.8"/><path d="M1297.4 206.8V330.3" stroke="#000" stroke-width="1.8"/><path d="M1297.4 331.7V349.9" stroke="#000" stroke-width="1.8"/><path d="M1297.4 138.9V164.1" stroke="#000" stroke-width="1.6" stroke-dasharray="6.8 5.7"/><path d="M1297.4 203.5V181.0" stroke="#000" stroke-width="1.6" stroke-dasharray="6.8 5.7"/><rect x="1292.6" y="164.1" width="9.6" height="16.8" fill="#d3d3d3"/><path d="M1292.2 171.2H1302.6" stroke="#f00" stroke-width="4.8"/><rect x="1292.6" y="164.1" width="9.6" height="16.8" stroke="#000" stroke-width="1.6"/><path d="M1294.7 138.9H1300.2" stroke="#000" stroke-width="1.6"/><path d="M1294.7 203.5H1300.2" stroke="#000" stroke-width="1.6"/><rect x="1315.3" y="76.4" width="2.0" height="2.6" fill="#000"/><rect x="1315.3" y="85.1" width="2.0" height="2.6" fill="#000"/><path d="M1316.3 129.9V165.5" stroke="#000" stroke-width="1.6" stroke-dasharray="6.8 5.7"/><path d="M1316.3 251.7V208.8" stroke="#000" stroke-width="1.6" stroke-dasharray="6.8 5.7"/><rect x="1311.5" y="165.5" width="9.6" height="43.3" fill="#d3d3d3"/><path d="M1311.1 171.2H1321.5" stroke="#f00" stroke-width="4.8"/><rect x="1311.5" y="165.5" width="9.6" height="43.3" stroke="#000" stroke-width="1.6"/><path d="M1313.6 129.9H1319.1" stroke="#000" stroke-width="1.6"/><path d="M1313.6 251.7H1319.1" stroke="#000" stroke-width="1.6"/><rect x="1334.3" y="76.4" width="2.0" height="2.6" fill="#000"/><rect x="1334.3" y="85.1" width="2.0" height="2.6" fill="#000"/><rect x="1334.3" y="102.5" width="2.0" height="2.6" fill="#000"/><rect x="1334.3" y="106.7" width="2.0" height="2.6" fill="#000"/><path d="M1335.3 232.1V282.6" stroke="#000" stroke-width="1.8" stroke-dasharray="3.4 2.2"/><path d="M1335.3 295.2V313.5" stroke="#000" stroke-width="1.8"/><rect x="1334.3" y="316.4" width="2.0" height="2.6" fill="#000"/><path d="M1335.3 334.5V344.3" stroke="#000" stroke-width="1.8"/><path d="M1335.3 364.0V379.4" stroke="#000" stroke-width="1.8"/><path d="M1335.3 111.7V156.3" stroke="#000" stroke-width="1.6" stroke-dasharray="6.8 5.7"/><path d="M1335.3 231.5V185.2" stroke="#000" stroke-width="1.6" stroke-dasharray="6.8 5.7"/><rect x="1330.5" y="156.3" width="9.6" height="28.9" fill="#d3d3d3"/><path d="M1330.1 168.4H1340.5" stroke="#f00" stroke-width="4.8"/><rect x="1330.5" y="156.3" width="9.6" height="28.9" stroke="#000" stroke-width="1.6"/><path d="M1332.5 111.7H1338.0" stroke="#000" stroke-width="1.6"/><path d="M1332.5 231.5H1338.0" stroke="#000" stroke-width="1.6"/><rect x="1353.2" y="310.2" width="2.0" height="2.6" fill="#000"/><rect x="1353.2" y="338.3" width="2.0" height="2.6" fill="#000"/><rect x="1353.2" y="382.3" width="2.0" height="2.6" fill="#000"/><rect x="1353.2" y="382.9" width="2.0" height="2.6" fill="#000"/><path d="M1354.2 131.3V159.4" stroke="#000" stroke-width="1.6" stroke-dasharray="6.8 5.7"/><path d="M1354.2 271.9V211.6" stroke="#000" stroke-width="1.6" stroke-dasharray="6.8 5.7"/><rect x="1349.4" y="159.4" width="9.6" height="52.2" fill="#d3d3d3"/><path d="M1349.0 168.4H1359.4" stroke="#f00" stroke-width="4.8"/><rect x="1349.4" y="159.4" width="9.6" height="52.2" stroke="#000" stroke-width="1.6"/><path d="M1351.5 131.3H1357.0" stroke="#000" stroke-width="1.6"/><path d="M1351.5 271.9H1357.0" stroke="#000" stroke-width="1.6"/><path d="M1373.1 109.4V144.5" stroke="#000" stroke-width="1.8" stroke-dasharray="3.4 2.2"/><path d="M1373.1 190.0V209.6" stroke="#000" stroke-width="1.8" stroke-dasharray="3.4 2.2"/><path d="M1373.1 145.3V162.2" stroke="#000" stroke-width="1.6" stroke-dasharray="6.8 5.7"/><path d="M1373.1 185.2V173.1" stroke="#000" stroke-width="1.6" stroke-dasharray="6.8 5.7"/><rect x="1368.3" y="162.2" width="9.6" height="10.9" fill="#d3d3d3"/><path d="M1367.9 168.4H1378.3" stroke="#f00" stroke-width="4.8"/><rect x="1368.3" y="162.2" width="9.6" height="10.9" stroke="#000" stroke-width="1.6"/><path d="M1370.4 145.3H1375.9" stroke="#000" stroke-width="1.6"/><path d="M1370.4 185.2H1375.9" stroke="#000" stroke-width="1.6"/><rect x="1391.1" y="85.7" width="2.0" height="2.6" fill="#000"/><rect x="1391.1" y="103.1" width="2.0" height="2.6" fill="#000"/><rect x="1391.1" y="110.9" width="2.0" height="2.6" fill="#000"/><path d="M1392.1 123.5V136.1" stroke="#000" stroke-width="1.8"/><path d="M1392.1 206.8V218.1" stroke="#000" stroke-width="1.8"/><path d="M1392.1 220.9V234.9" stroke="#000" stroke-width="1.8"/><path d="M1392.1 237.7V260.1" stroke="#000" stroke-width="1.8"/><rect x="1391.1" y="271.5" width="2.0" height="2.6" fill="#000"/><rect x="1391.1" y="284.1" width="2.0" height="2.6" fill="#000"/><rect x="1391.1" y="316.4" width="2.0" height="2.6" fill="#000"/><rect x="1391.1" y="334.6" width="2.0" height="2.6" fill="#000"/><rect x="1391.1" y="404.5" width="2.0" height="2.6" fill="#000"/><path d="M1392.1 136.6V162.2" stroke="#000" stroke-width="1.6" stroke-dasharray="6.8 5.7"/><path d="M1392.1 205.4V179.0" stroke="#000" stroke-width="1.6" stroke-dasharray="6.8 5.7"/><rect x="1387.3" y="162.2" width="9.6" height="16.8" fill="#d3d3d3"/><path d="M1386.9 165.5H1397.3" stroke="#f00" stroke-width="4.8"/><rect x="1387.3" y="162.2" width="9.6" height="16.8" stroke="#000" stroke-width="1.6"/><path d="M1389.3 136.6H1394.8" stroke="#000" stroke-width="1.6"/><path d="M1389.3 205.4H1394.8" stroke="#000" stroke-width="1.6"/><rect x="1410.0" y="76.4" width="2.0" height="2.6" fill="#000"/><rect x="1410.0" y="85.1" width="2.0" height="2.6" fill="#000"/><path d="M1411.0 103.8V115.0" stroke="#000" stroke-width="1.8" stroke-dasharray="3.4 2.2"/><path d="M1411.0 206.8V223.7" stroke="#000" stroke-width="1.8"/><path d="M1411.0 227.9V260.1" stroke="#000" stroke-width="1.8"/><rect x="1410.0" y="361.3" width="2.0" height="2.6" fill="#000"/><path d="M1411.0 115.6V148.2" stroke="#000" stroke-width="1.6" stroke-dasharray="6.8 5.7"/><path d="M1411.0 202.1V173.1" stroke="#000" stroke-width="1.6" stroke-dasharray="6.8 5.7"/><rect x="1406.2" y="148.2" width="9.6" height="25.0" fill="#d3d3d3"/><path d="M1405.8 165.5H1416.2" stroke="#f00" stroke-width="4.8"/><rect x="1406.2" y="148.2" width="9.6" height="25.0" stroke="#000" stroke-width="1.6"/><path d="M1408.3 115.6H1413.8" stroke="#000" stroke-width="1.6"/><path d="M1408.3 202.1H1413.8" stroke="#000" stroke-width="1.6"/><rect x="1428.9" y="76.4" width="2.0" height="2.6" fill="#000"/><rect x="1428.9" y="85.1" width="2.0" height="2.6" fill="#000"/><rect x="1428.9" y="109.5" width="2.0" height="2.6" fill="#000"/><rect x="1428.9" y="196.5" width="2.0" height="2.6" fill="#000"/><path d="M1429.9 201.2V220.9" stroke="#000" stroke-width="1.8"/><path d="M1429.9 225.1V260.1" stroke="#000" stroke-width="1.8"/><rect x="1428.9" y="316.4" width="2.0" height="2.6" fill="#000"/><rect x="1428.9" y="334.6" width="2.0" height="2.6" fill="#000"/><rect x="1428.9" y="404.5" width="2.0" height="2.6" fill="#000"/><rect x="1428.9" y="404.5" width="2.0" height="2.6" fill="#000"/><path d="M1429.9 119.3V146.7" stroke="#000" stroke-width="1.6" stroke-dasharray="6.8 5.7"/><path d="M1429.9 199.5V168.4" stroke="#000" stroke-width="1.6" stroke-dasharray="6.8 5.7"/><rect x="1425.1" y="146.7" width="9.6" height="21.6" fill="#d3d3d3"/><path d="M1424.7 162.2H1435.1" stroke="#f00" stroke-width="4.8"/><rect x="1425.1" y="146.7" width="9.6" height="21.6" stroke="#000" stroke-width="1.6"/><path d="M1427.2 119.3H1432.7" stroke="#000" stroke-width="1.6"/><path d="M1427.2 199.5H1432.7" stroke="#000" stroke-width="1.6"/><rect x="1447.9" y="102.5" width="2.0" height="2.6" fill="#000"/><path d="M1448.9 126.3V133.3" stroke="#000" stroke-width="1.8"/><path d="M1448.9 190.0V204.0" stroke="#000" stroke-width="1.8"/><path d="M1448.9 206.8V260.1" stroke="#000" stroke-width="1.8" stroke-dasharray="3.4 2.2"/><rect x="1447.9" y="271.5" width="2.0" height="2.6" fill="#000"/><path d="M1448.9 136.6V154.3" stroke="#000" stroke-width="1.6" stroke-dasharray="6.8 5.7"/><path d="M1448.9 185.2V167.0" stroke="#000" stroke-width="1.6" stroke-dasharray="6.8 5.7"/><rect x="1444.1" y="154.3" width="9.6" height="12.6" fill="#d3d3d3"/><path d="M1443.7 160.5H1454.1" stroke="#f00" stroke-width="4.8"/><rect x="1444.1" y="154.3" width="9.6" height="12.6" stroke="#000" stroke-width="1.6"/><path d="M1446.1 136.6H1451.6" stroke="#000" stroke-width="1.6"/><path d="M1446.1 185.2H1451.6" stroke="#000" stroke-width="1.6"/><path d="M1467.8 192.8V206.8" stroke="#000" stroke-width="1.8"/><path d="M1467.8 206.8V223.7" stroke="#000" stroke-width="1.8" stroke-dasharray="3.4 2.2"/><rect x="1466.8" y="239.2" width="2.0" height="2.6" fill="#000"/><path d="M1467.8 258.7V264.4" stroke="#000" stroke-width="1.8"/><path d="M1467.8 302.2V310.7" stroke="#000" stroke-width="1.8" stroke-dasharray="3.4 2.2"/><rect x="1466.8" y="322.0" width="2.0" height="2.6" fill="#000"/><rect x="1466.8" y="333.2" width="2.0" height="2.6" fill="#000"/><rect x="1466.8" y="343.0" width="2.0" height="2.6" fill="#000"/><rect x="1466.8" y="423.0" width="2.0" height="2.6" fill="#000"/><rect x="1466.8" y="489.5" width="2.0" height="2.6" fill="#000"/><path d="M1467.8 129.9V151.5" stroke="#000" stroke-width="1.6" stroke-dasharray="6.8 5.7"/><path d="M1467.8 190.0V167.0" stroke="#000" stroke-width="1.6" stroke-dasharray="6.8 5.7"/><rect x="1463.0" y="151.5" width="9.6" height="15.4" fill="#d3d3d3"/><path d="M1462.6 159.4H1473.0" stroke="#f00" stroke-width="4.8"/><rect x="1463.0" y="151.5" width="9.6" height="15.4" stroke="#000" stroke-width="1.6"/><path d="M1465.1 129.9H1470.6" stroke="#000" stroke-width="1.6"/><path d="M1465.1 190.0H1470.6" stroke="#000" stroke-width="1.6"/><rect x="1485.7" y="108.1" width="2.0" height="2.6" fill="#000"/><path d="M1486.7 197.0V218.1" stroke="#000" stroke-width="1.8"/><rect x="1485.7" y="229.4" width="2.0" height="2.6" fill="#000"/><path d="M1486.7 237.7V254.5" stroke="#000" stroke-width="1.8" stroke-dasharray="3.4 2.2"/><rect x="1485.7" y="260.8" width="2.0" height="2.6" fill="#000"/><rect x="1485.7" y="288.3" width="2.0" height="2.6" fill="#000"/><path d="M1486.7 113.6V145.3" stroke="#000" stroke-width="1.6" stroke-dasharray="6.8 5.7"/><path d="M1486.7 196.4V165.5" stroke="#000" stroke-width="1.6" stroke-dasharray="6.8 5.7"/><rect x="1481.9" y="145.3" width="9.6" height="20.2" fill="#d3d3d3"/><path d="M1481.5 152.9H1491.9" stroke="#f00" stroke-width="4.8"/><rect x="1481.9" y="145.3" width="9.6" height="20.2" stroke="#000" stroke-width="1.6"/><path d="M1484.0 113.6H1489.5" stroke="#000" stroke-width="1.6"/><path d="M1484.0 196.4H1489.5" stroke="#000" stroke-width="1.6"/><rect x="1504.7" y="76.4" width="2.0" height="2.6" fill="#000"/><rect x="1504.7" y="85.1" width="2.0" height="2.6" fill="#000"/><rect x="1504.7" y="108.1" width="2.0" height="2.6" fill="#000"/><path d="M1505.7 117.8V126.3" stroke="#000" stroke-width="1.8"/><path d="M1505.7 183.8V200.1" stroke="#000" stroke-width="1.8"/><path d="M1505.7 190.0V264.4" stroke="#000" stroke-width="1.8"/><rect x="1504.7" y="285.5" width="2.0" height="2.6" fill="#000"/><rect x="1504.7" y="316.4" width="2.0" height="2.6" fill="#000"/><path d="M1505.7 335.9V375.2" stroke="#000" stroke-width="1.8" stroke-dasharray="3.4 2.2"/><path d="M1505.7 376.6V390.1" stroke="#000" stroke-width="1.8"/><path d="M1505.7 380.0V394.0" stroke="#000" stroke-width="1.8"/><path d="M1505.7 396.8V416.5" stroke="#000" stroke-width="1.8" stroke-dasharray="3.4 2.2"/><path d="M1505.7 426.3V434.7" stroke="#000" stroke-width="1.8"/><rect x="1504.7" y="459.2" width="2.0" height="2.6" fill="#000"/><path d="M1505.7 127.7V148.2" stroke="#000" stroke-width="1.6" stroke-dasharray="6.8 5.7"/><path d="M1505.7 183.8V162.2" stroke="#000" stroke-width="1.6" stroke-dasharray="6.8 5.7"/><rect x="1500.9" y="148.2" width="9.6" height="14.0" fill="#d3d3d3"/><path d="M1500.5 151.5H1510.9" stroke="#f00" stroke-width="4.8"/><rect x="1500.9" y="148.2" width="9.6" height="14.0" stroke="#000" stroke-width="1.6"/><path d="M1502.9 127.7H1508.4" stroke="#000" stroke-width="1.6"/><path d="M1502.9 183.8H1508.4" stroke="#000" stroke-width="1.6"/><path d="M1524.6 229.3V257.3" stroke="#000" stroke-width="1.8"/><path d="M1524.6 260.1V288.2" stroke="#000" stroke-width="1.8"/><path d="M1524.6 303.6V323.3" stroke="#000" stroke-width="1.8"/><path d="M1524.6 330.3V338.7" stroke="#000" stroke-width="1.8"/><path d="M1524.6 347.1V355.5" stroke="#000" stroke-width="1.8"/><rect x="1523.6" y="566.7" width="2.0" height="2.6" fill="#000"/><path d="M1524.6 100.2V132.7" stroke="#000" stroke-width="1.6" stroke-dasharray="6.8 5.7"/><path d="M1524.6 227.9V171.2" stroke="#000" stroke-width="1.6" stroke-dasharray="6.8 5.7"/><rect x="1519.8" y="132.7" width="9.6" height="38.4" fill="#d3d3d3"/><path d="M1519.4 151.5H1529.8" stroke="#f00" stroke-width="4.8"/><rect x="1519.8" y="132.7" width="9.6" height="38.4" stroke="#000" stroke-width="1.6"/><path d="M1521.9 100.2H1527.4" stroke="#000" stroke-width="1.6"/><path d="M1521.9 227.9H1527.4" stroke="#000" stroke-width="1.6"/><path d="M1543.5 285.4V390.1" stroke="#000" stroke-width="1.8"/><path d="M1543.5 380.0V488.0" stroke="#000" stroke-width="1.8"/><rect x="1542.5" y="559.1" width="2.0" height="2.6" fill="#000"/><rect x="1542.5" y="568.1" width="2.0" height="2.6" fill="#000"/><path d="M1543.5 115.6V142.3" stroke="#000" stroke-width="1.6" stroke-dasharray="6.8 5.7"/><path d="M1543.5 268.6V193.6" stroke="#000" stroke-width="1.6" stroke-dasharray="6.8 5.7"/><rect x="1538.7" y="142.3" width="9.6" height="51.3" fill="#d3d3d3"/><path d="M1538.3 151.5H1548.7" stroke="#f00" stroke-width="4.8"/><rect x="1538.7" y="142.3" width="9.6" height="51.3" stroke="#000" stroke-width="1.6"/><path d="M1540.8 115.6H1546.3" stroke="#000" stroke-width="1.6"/><path d="M1540.8 268.6H1546.3" stroke="#000" stroke-width="1.6"/><path d="M1562.5 194.2V226.5" stroke="#000" stroke-width="1.8"/><path d="M1562.5 236.3V246.1" stroke="#000" stroke-width="1.8"/><path d="M1562.5 250.3V282.6" stroke="#000" stroke-width="1.8" stroke-dasharray="3.4 2.2"/><rect x="1561.5" y="306.5" width="2.0" height="2.6" fill="#000"/><rect x="1561.5" y="319.2" width="2.0" height="2.6" fill="#000"/><path d="M1562.5 114.5V137.5" stroke="#000" stroke-width="1.6" stroke-dasharray="6.8 5.7"/><path d="M1562.5 193.0V160.8" stroke="#000" stroke-width="1.6" stroke-dasharray="6.8 5.7"/><rect x="1557.7" y="137.5" width="9.6" height="23.3" fill="#d3d3d3"/><path d="M1557.3 150.1H1567.7" stroke="#f00" stroke-width="4.8"/><rect x="1557.7" y="137.5" width="9.6" height="23.3" stroke="#000" stroke-width="1.6"/><path d="M1559.7 114.5H1565.2" stroke="#000" stroke-width="1.6"/><path d="M1559.7 193.0H1565.2" stroke="#000" stroke-width="1.6"/><rect x="1580.4" y="38.0" width="2.0" height="2.6" fill="#000"/><rect x="1580.4" y="85.7" width="2.0" height="2.6" fill="#000"/><rect x="1580.4" y="96.9" width="2.0" height="2.6" fill="#000"/><rect x="1580.4" y="209.7" width="2.0" height="2.6" fill="#000"/><rect x="1580.4" y="216.8" width="2.0" height="2.6" fill="#000"/><rect x="1580.4" y="223.8" width="2.0" height="2.6" fill="#000"/><rect x="1580.4" y="334.6" width="2.0" height="2.6" fill="#000"/><path d="M1581.4 105.2V138.9" stroke="#000" stroke-width="1.6" stroke-dasharray="6.8 5.7"/><path d="M1581.4 198.7V162.2" stroke="#000" stroke-width="1.6" stroke-dasharray="6.8 5.7"/><rect x="1576.6" y="138.9" width="9.6" height="23.3" fill="#d3d3d3"/><path d="M1576.2 150.1H1586.6" stroke="#f00" stroke-width="4.8"/><rect x="1576.6" y="138.9" width="9.6" height="23.3" stroke="#000" stroke-width="1.6"/><path d="M1578.7 105.2H1584.2" stroke="#000" stroke-width="1.6"/><path d="M1578.7 198.7H1584.2" stroke="#000" stroke-width="1.6"/><path d="M1600.3 208.2V344.3" stroke="#000" stroke-width="1.8"/><rect x="1599.3" y="350.0" width="2.0" height="2.6" fill="#000"/><rect x="1599.3" y="359.9" width="2.0" height="2.6" fill="#000"/><path d="M1600.3 431.9V436.1" stroke="#000" stroke-width="1.8"/><rect x="1599.3" y="448.0" width="2.0" height="2.6" fill="#000"/><path d="M1600.3 465.6V469.2" stroke="#000" stroke-width="1.8"/><path d="M1600.3 507.7V523.1" stroke="#000" stroke-width="1.8"/><rect x="1599.3" y="537.8" width="2.0" height="2.6" fill="#000"/><path d="M1600.3 544.1V571.5" stroke="#000" stroke-width="1.8"/><path d="M1600.3 114.5V137.5" stroke="#000" stroke-width="1.6" stroke-dasharray="6.8 5.7"/><path d="M1600.3 206.8V165.5" stroke="#000" stroke-width="1.6" stroke-dasharray="6.8 5.7"/><rect x="1595.5" y="137.5" width="9.6" height="28.1" fill="#d3d3d3"/><path d="M1595.1 150.1H1605.5" stroke="#f00" stroke-width="4.8"/><rect x="1595.5" y="137.5" width="9.6" height="28.1" stroke="#000" stroke-width="1.6"/><path d="M1597.6 114.5H1603.1" stroke="#000" stroke-width="1.6"/><path d="M1597.6 206.8H1603.1" stroke="#000" stroke-width="1.6"/><rect x="1618.3" y="85.7" width="2.0" height="2.6" fill="#000"/><rect x="1618.3" y="102.5" width="2.0" height="2.6" fill="#000"/><rect x="1618.3" y="109.5" width="2.0" height="2.6" fill="#000"/><path d="M1619.3 183.8V200.1" stroke="#000" stroke-width="1.8"/><path d="M1619.3 190.0V206.8" stroke="#000" stroke-width="1.8"/><path d="M1619.3 209.6V232.1" stroke="#000" stroke-width="1.8"/><path d="M1619.3 236.3V263.0" stroke="#000" stroke-width="1.8" stroke-dasharray="3.4 2.2"/><rect x="1618.3" y="333.8" width="2.0" height="2.6" fill="#000"/><path d="M1619.3 119.3V138.9" stroke="#000" stroke-width="1.6" stroke-dasharray="6.8 5.7"/><path d="M1619.3 182.9V157.7" stroke="#000" stroke-width="1.6" stroke-dasharray="6.8 5.7"/><rect x="1614.5" y="138.9" width="9.6" height="18.8" fill="#d3d3d3"/><path d="M1614.1 148.2H1624.5" stroke="#f00" stroke-width="4.8"/><rect x="1614.5" y="138.9" width="9.6" height="18.8" stroke="#000" stroke-width="1.6"/><path d="M1616.5 119.3H1622.0" stroke="#000" stroke-width="1.6"/><path d="M1616.5 182.9H1622.0" stroke="#000" stroke-width="1.6"/><rect x="1637.2" y="92.7" width="2.0" height="2.6" fill="#000"/><rect x="1637.2" y="102.5" width="2.0" height="2.6" fill="#000"/><path d="M1638.2 112.2V123.5" stroke="#000" stroke-width="1.8"/><path d="M1638.2 168.4V200.1" stroke="#000" stroke-width="1.8"/><path d="M1638.2 190.0V195.6" stroke="#000" stroke-width="1.8"/><path d="M1638.2 199.8V212.4" stroke="#000" stroke-width="1.8"/><rect x="1637.2" y="381.5" width="2.0" height="2.6" fill="#000"/><rect x="1637.2" y="381.5" width="2.0" height="2.6" fill="#000"/><path d="M1638.2 123.5V138.9" stroke="#000" stroke-width="1.6" stroke-dasharray="6.8 5.7"/><path d="M1638.2 167.0V150.1" stroke="#000" stroke-width="1.6" stroke-dasharray="6.8 5.7"/><rect x="1633.4" y="138.9" width="9.6" height="11.2" fill="#d3d3d3"/><path d="M1633.0 146.7H1643.4" stroke="#f00" stroke-width="4.8"/><rect x="1633.4" y="138.9" width="9.6" height="11.2" stroke="#000" stroke-width="1.6"/><path d="M1635.5 123.5H1641.0" stroke="#000" stroke-width="1.6"/><path d="M1635.5 167.0H1641.0" stroke="#000" stroke-width="1.6"/><rect x="1656.1" y="59.0" width="2.0" height="2.6" fill="#000"/><path d="M1657.1 232.1V251.7" stroke="#000" stroke-width="1.8"/><path d="M1657.1 74.4V126.8" stroke="#000" stroke-width="1.6" stroke-dasharray="6.8 5.7"/><path d="M1657.1 229.8V168.4" stroke="#000" stroke-width="1.6" stroke-dasharray="6.8 5.7"/><rect x="1652.3" y="126.8" width="9.6" height="41.5" fill="#d3d3d3"/><path d="M1651.9 145.3H1662.3" stroke="#f00" stroke-width="4.8"/><rect x="1652.3" y="126.8" width="9.6" height="41.5" stroke="#000" stroke-width="1.6"/><path d="M1654.4 74.4H1659.9" stroke="#000" stroke-width="1.6"/><path d="M1654.4 229.8H1659.9" stroke="#000" stroke-width="1.6"/><path d="M1676.1 168.4V200.1" stroke="#000" stroke-width="1.8" stroke-dasharray="3.4 2.2"/><path d="M1676.1 190.0V218.1" stroke="#000" stroke-width="1.8"/><path d="M1676.1 223.7V234.9" stroke="#000" stroke-width="1.8"/><rect x="1675.1" y="251.8" width="2.0" height="2.6" fill="#000"/><rect x="1675.1" y="256.0" width="2.0" height="2.6" fill="#000"/><rect x="1675.1" y="260.8" width="2.0" height="2.6" fill="#000"/><path d="M1676.1 114.5V134.1" stroke="#000" stroke-width="1.6" stroke-dasharray="6.8 5.7"/><path d="M1676.1 167.0V146.7" stroke="#000" stroke-width="1.6" stroke-dasharray="6.8 5.7"/><rect x="1671.3" y="134.1" width="9.6" height="12.6" fill="#d3d3d3"/><path d="M1670.9 141.7H1681.3" stroke="#f00" stroke-width="4.8"/><rect x="1671.3" y="134.1" width="9.6" height="12.6" stroke="#000" stroke-width="1.6"/><path d="M1673.3 114.5H1678.8" stroke="#000" stroke-width="1.6"/><path d="M1673.3 167.0H1678.8" stroke="#000" stroke-width="1.6"/><rect x="1694.0" y="73.6" width="2.0" height="2.6" fill="#000"/><path d="M1695.0 183.8V200.1" stroke="#000" stroke-width="1.8"/><path d="M1695.0 190.0V250.3" stroke="#000" stroke-width="1.8"/><path d="M1695.0 253.1V274.2" stroke="#000" stroke-width="1.8" stroke-dasharray="3.4 2.2"/><rect x="1694.0" y="348.6" width="2.0" height="2.6" fill="#000"/><path d="M1695.0 357.0V366.8" stroke="#000" stroke-width="1.8"/><path d="M1695.0 114.5V129.6" stroke="#000" stroke-width="1.6" stroke-dasharray="6.8 5.7"/><path d="M1695.0 182.9V151.5" stroke="#000" stroke-width="1.6" stroke-dasharray="6.8 5.7"/><rect x="1690.2" y="129.6" width="9.6" height="21.9" fill="#d3d3d3"/><path d="M1689.8 140.3H1700.2" stroke="#f00" stroke-width="4.8"/><rect x="1690.2" y="129.6" width="9.6" height="21.9" stroke="#000" stroke-width="1.6"/><path d="M1692.3 114.5H1697.8" stroke="#000" stroke-width="1.6"/><path d="M1692.3 182.9H1697.8" stroke="#000" stroke-width="1.6"/><path d="M1713.9 201.2V215.3" stroke="#000" stroke-width="1.8"/><path d="M1713.9 105.2V109.4" stroke="#000" stroke-width="1.6" stroke-dasharray="6.8 5.7"/><path d="M1713.9 199.2V145.3" stroke="#000" stroke-width="1.6" stroke-dasharray="6.8 5.7"/><rect x="1709.1" y="109.4" width="9.6" height="35.9" fill="#d3d3d3"/><path d="M1708.7 138.9H1719.1" stroke="#f00" stroke-width="4.8"/><rect x="1709.1" y="109.4" width="9.6" height="35.9" stroke="#000" stroke-width="1.6"/><path d="M1711.2 105.2H1716.7" stroke="#000" stroke-width="1.6"/><path d="M1711.2 199.2H1716.7" stroke="#000" stroke-width="1.6"/><rect x="1731.9" y="75.9" width="2.0" height="2.6" fill="#000"/><path d="M1732.9 206.8V218.1" stroke="#000" stroke-width="1.8"/><path d="M1732.9 220.9V263.0" stroke="#000" stroke-width="1.8" stroke-dasharray="3.4 2.2"/><rect x="1731.9" y="271.5" width="2.0" height="2.6" fill="#000"/><rect x="1731.9" y="285.5" width="2.0" height="2.6" fill="#000"/><rect x="1731.9" y="316.4" width="2.0" height="2.6" fill="#000"/><rect x="1731.9" y="334.6" width="2.0" height="2.6" fill="#000"/><rect x="1731.9" y="568.1" width="2.0" height="2.6" fill="#000"/><path d="M1732.9 88.4V129.6" stroke="#000" stroke-width="1.6" stroke-dasharray="6.8 5.7"/><path d="M1732.9 201.8V162.2" stroke="#000" stroke-width="1.6" stroke-dasharray="6.8 5.7"/><rect x="1728.1" y="129.6" width="9.6" height="32.5" fill="#d3d3d3"/><path d="M1727.7 138.9H1738.1" stroke="#f00" stroke-width="4.8"/><rect x="1728.1" y="129.6" width="9.6" height="32.5" stroke="#000" stroke-width="1.6"/><path d="M1730.1 88.4H1735.6" stroke="#000" stroke-width="1.6"/><path d="M1730.1 201.8H1735.6" stroke="#000" stroke-width="1.6"/><path d="M1751.8 84.2V91.2" stroke="#000" stroke-width="1.8"/><rect x="1750.8" y="101.1" width="2.0" height="2.6" fill="#000"/><path d="M1751.8 182.4V200.1" stroke="#000" stroke-width="1.8"/><path d="M1751.8 190.0V204.0" stroke="#000" stroke-width="1.8"/><rect x="1750.8" y="222.4" width="2.0" height="2.6" fill="#000"/><path d="M1751.8 110.3V136.2" stroke="#000" stroke-width="1.6" stroke-dasharray="6.8 5.7"/><path d="M1751.8 181.0V152.9" stroke="#000" stroke-width="1.6" stroke-dasharray="6.8 5.7"/><rect x="1747.0" y="136.2" width="9.6" height="16.7" fill="#d3d3d3"/><path d="M1746.6 135.5H1757.0" stroke="#f00" stroke-width="4.8"/><rect x="1747.0" y="136.2" width="9.6" height="16.7" stroke="#000" stroke-width="1.6"/><path d="M1749.1 110.3H1754.6" stroke="#000" stroke-width="1.6"/><path d="M1749.1 181.0H1754.6" stroke="#000" stroke-width="1.6"/></g>
<rect x="70" y="6" width="1696.2" height="566.0" fill="none" stroke="#000" stroke-width="1.5"/>
<path d="M63.7 502.8H70" stroke="#000" stroke-width="1.5"/><text x="62" y="510.7" font-size="22" text-anchor="end">-20</text><path d="M63.7 407.8H70" stroke="#000" stroke-width="1.5"/><text x="62" y="415.7" font-size="22" text-anchor="end">0</text><path d="M63.7 312.8H70" stroke="#000" stroke-width="1.5"/><text x="62" y="320.7" font-size="22" text-anchor="end">20</text><path d="M63.7 217.8H70" stroke="#000" stroke-width="1.5"/><text x="62" y="225.7" font-size="22" text-anchor="end">40</text><path d="M63.7 122.8H70" stroke="#000" stroke-width="1.5"/><text x="62" y="130.7" font-size="22" text-anchor="end">60</text><path d="M63.7 27.8H70" stroke="#000" stroke-width="1.5"/><text x="62" y="35.7" font-size="22" text-anchor="end">80</text>
<text transform="translate(25.5 289) rotate(-90)" font-size="24.7" text-anchor="middle">Latitude</text>
<path d="M86.2 572.0V586.6" stroke="#000" stroke-width="1.5"/><text transform="translate(95.3 601.2) rotate(-90)" font-size="22" text-anchor="end">Pomasalt</text><path d="M105.1 572.0V586.6" stroke="#000" stroke-width="1.5"/><text transform="translate(114.2 601.2) rotate(-90)" font-size="22" text-anchor="end">Caracrys</text><path d="M124.1 572.0V586.6" stroke="#000" stroke-width="1.5"/><text transform="translate(133.2 601.2) rotate(-90)" font-size="22" text-anchor="end">Balicapr</text><path d="M143.0 572.0V586.6" stroke="#000" stroke-width="1.5"/><text transform="translate(152.1 601.2) rotate(-90)" font-size="22" text-anchor="end">Cephtaen</text><path d="M161.9 572.0V586.6" stroke="#000" stroke-width="1.5"/><text transform="translate(171.0 601.2) rotate(-90)" font-size="22" text-anchor="end">Halooven</text><path d="M180.9 572.0V586.6" stroke="#000" stroke-width="1.5"/><text transform="translate(190.0 601.2) rotate(-90)" font-size="22" text-anchor="end">Gephdanw</text><path d="M199.8 572.0V586.6" stroke="#000" stroke-width="1.5"/><text transform="translate(208.9 601.2) rotate(-90)" font-size="22" text-anchor="end">Epinmarg</text><path d="M218.7 572.0V586.6" stroke="#000" stroke-width="1.5"/><text transform="translate(227.8 601.2) rotate(-90)" font-size="22" text-anchor="end">Sardsard</text><path d="M237.6 572.0V586.6" stroke="#000" stroke-width="1.5"/><text transform="translate(246.7 601.2) rotate(-90)" font-size="22" text-anchor="end">Triclept</text><path d="M256.6 572.0V586.6" stroke="#000" stroke-width="1.5"/><text transform="translate(265.7 601.2) rotate(-90)" font-size="22" text-anchor="end">Triglyra</text><path d="M275.5 572.0V586.6" stroke="#000" stroke-width="1.5"/><text transform="translate(284.6 601.2) rotate(-90)" font-size="22" text-anchor="end">Acanmonr</text><path d="M294.4 572.0V586.6" stroke="#000" stroke-width="1.5"/><text transform="translate(303.5 601.2) rotate(-90)" font-size="22" text-anchor="end">Rajamira</text><path d="M313.4 572.0V586.6" stroke="#000" stroke-width="1.5"/><text transform="translate(322.5 601.2) rotate(-90)" font-size="22" text-anchor="end">Strofiat</text><path d="M332.3 572.0V586.6" stroke="#000" stroke-width="1.5"/><text transform="translate(341.4 601.2) rotate(-90)" font-size="22" text-anchor="end">Rhincemi</text><path d="M351.2 572.0V586.6" stroke="#000" stroke-width="1.5"/><text transform="translate(360.3 601.2) rotate(-90)" font-size="22" text-anchor="end">Anthanth</text><path d="M370.1 572.0V586.6" stroke="#000" stroke-width="1.5"/><text transform="translate(379.2 601.2) rotate(-90)" font-size="22" text-anchor="end">Pericata</text><path d="M389.1 572.0V586.6" stroke="#000" stroke-width="1.5"/><text transform="translate(398.2 601.2) rotate(-90)" font-size="22" text-anchor="end">Pisosemi</text><path d="M408.0 572.0V586.6" stroke="#000" stroke-width="1.5"/><text transform="translate(417.1 601.2) rotate(-90)" font-size="22" text-anchor="end">Sphopach</text><path d="M426.9 572.0V586.6" stroke="#000" stroke-width="1.5"/><text transform="translate(436.0 601.2) rotate(-90)" font-size="22" text-anchor="end">Dicocune</text><path d="M445.9 572.0V586.6" stroke="#000" stroke-width="1.5"/><text transform="translate(455.0 601.2) rotate(-90)" font-size="22" text-anchor="end">Hymeital</text><path d="M464.8 572.0V586.6" stroke="#000" stroke-width="1.5"/><text transform="translate(473.9 601.2) rotate(-90)" font-size="22" text-anchor="end">Coelcael</text><path d="M483.7 572.0V586.6" stroke="#000" stroke-width="1.5"/><text transform="translate(492.8 601.2) rotate(-90)" font-size="22" text-anchor="end">Pegulasc</text><path d="M502.7 572.0V586.6" stroke="#000" stroke-width="1.5"/><text transform="translate(511.8 601.2) rotate(-90)" font-size="22" text-anchor="end">Corijuli</text><path d="M521.6 572.0V586.6" stroke="#000" stroke-width="1.5"/><text transform="translate(530.7 601.2) rotate(-90)" font-size="22" text-anchor="end">Cithling</text><path d="M540.5 572.0V586.6" stroke="#000" stroke-width="1.5"/><text transform="translate(549.6 601.2) rotate(-90)" font-size="22" text-anchor="end">Scylstel</text><path d="M559.5 572.0V586.6" stroke="#000" stroke-width="1.5"/><text transform="translate(568.6 601.2) rotate(-90)" font-size="22" text-anchor="end">Umbrcana</text><path d="M578.4 572.0V586.6" stroke="#000" stroke-width="1.5"/><text transform="translate(587.5 601.2) rotate(-90)" font-size="22" text-anchor="end">Torpmarm</text><path d="M597.3 572.0V586.6" stroke="#000" stroke-width="1.5"/><text transform="translate(606.4 601.2) rotate(-90)" font-size="22" text-anchor="end">Pontkuhl</text><path d="M616.2 572.0V586.6" stroke="#000" stroke-width="1.5"/><text transform="translate(625.3 601.2) rotate(-90)" font-size="22" text-anchor="end">Rhinrhin</text><path d="M635.2 572.0V586.6" stroke="#000" stroke-width="1.5"/><text transform="translate(644.3 601.2) rotate(-90)" font-size="22" text-anchor="end">Chelluce</text><path d="M654.1 572.0V586.6" stroke="#000" stroke-width="1.5"/><text transform="translate(663.2 601.2) rotate(-90)" font-size="22" text-anchor="end">Dactvoli</text><path d="M673.0 572.0V586.6" stroke="#000" stroke-width="1.5"/><text transform="translate(682.1 601.2) rotate(-90)" font-size="22" text-anchor="end">Scorscro</text><path d="M692.0 572.0V586.6" stroke="#000" stroke-width="1.5"/><text transform="translate(701.1 601.2) rotate(-90)" font-size="22" text-anchor="end">Chloagas</text><path d="M710.9 572.0V586.6" stroke="#000" stroke-width="1.5"/><text transform="translate(720.0 601.2) rotate(-90)" font-size="22" text-anchor="end">Fistpeti</text><path d="M729.8 572.0V586.6" stroke="#000" stroke-width="1.5"/><text transform="translate(738.9 601.2) rotate(-90)" font-size="22" text-anchor="end">Mustmust</text><path d="M748.8 572.0V586.6" stroke="#000" stroke-width="1.5"/><text transform="translate(757.9 601.2) rotate(-90)" font-size="22" text-anchor="end">Ephigutt</text><path d="M767.7 572.0V586.6" stroke="#000" stroke-width="1.5"/><text transform="translate(776.8 601.2) rotate(-90)" font-size="22" text-anchor="end">Echenauc</text><path d="M786.6 572.0V586.6" stroke="#000" stroke-width="1.5"/><text transform="translate(795.7 601.2) rotate(-90)" font-size="22" text-anchor="end">Galedeca</text><path d="M805.5 572.0V586.6" stroke="#000" stroke-width="1.5"/><text transform="translate(814.6 601.2) rotate(-90)" font-size="22" text-anchor="end">Pagrcaer</text><path d="M824.5 572.0V586.6" stroke="#000" stroke-width="1.5"/><text transform="translate(833.6 601.2) rotate(-90)" font-size="22" text-anchor="end">Ariupark</text><path d="M843.4 572.0V586.6" stroke="#000" stroke-width="1.5"/><text transform="translate(852.5 601.2) rotate(-90)" font-size="22" text-anchor="end">Dentmacr</text><path d="M862.3 572.0V586.6" stroke="#000" stroke-width="1.5"/><text transform="translate(871.4 601.2) rotate(-90)" font-size="22" text-anchor="end">Paraocto</text><path d="M881.3 572.0V586.6" stroke="#000" stroke-width="1.5"/><text transform="translate(890.4 601.2) rotate(-90)" font-size="22" text-anchor="end">Boopboop</text><path d="M900.2 572.0V586.6" stroke="#000" stroke-width="1.5"/><text transform="translate(909.3 601.2) rotate(-90)" font-size="22" text-anchor="end">Myctrubr</text><path d="M919.1 572.0V586.6" stroke="#000" stroke-width="1.5"/><text transform="translate(928.2 601.2) rotate(-90)" font-size="22" text-anchor="end">Hoplcade</text><path d="M938.1 572.0V586.6" stroke="#000" stroke-width="1.5"/><text transform="translate(947.2 601.2) rotate(-90)" font-size="22" text-anchor="end">Solesene</text><path d="M957.0 572.0V586.6" stroke="#000" stroke-width="1.5"/><text transform="translate(966.1 601.2) rotate(-90)" font-size="22" text-anchor="end">Argyregi</text><path d="M975.9 572.0V586.6" stroke="#000" stroke-width="1.5"/><text transform="translate(985.0 601.2) rotate(-90)" font-size="22" text-anchor="end">Sphysphy</text><path d="M994.8 572.0V586.6" stroke="#000" stroke-width="1.5"/><text transform="translate(1003.9 601.2) rotate(-90)" font-size="22" text-anchor="end">Bathprof</text><path d="M1013.8 572.0V586.6" stroke="#000" stroke-width="1.5"/><text transform="translate(1022.9 601.2) rotate(-90)" font-size="22" text-anchor="end">Campglay</text><path d="M1032.7 572.0V586.6" stroke="#000" stroke-width="1.5"/><text transform="translate(1041.8 601.2) rotate(-90)" font-size="22" text-anchor="end">Lithmorm</text><path d="M1051.6 572.0V586.6" stroke="#000" stroke-width="1.5"/><text transform="translate(1060.7 601.2) rotate(-90)" font-size="22" text-anchor="end">Mugiceph</text><path d="M1070.6 572.0V586.6" stroke="#000" stroke-width="1.5"/><text transform="translate(1079.7 601.2) rotate(-90)" font-size="22" text-anchor="end">Tracscab</text><path d="M1089.5 572.0V586.6" stroke="#000" stroke-width="1.5"/><text transform="translate(1098.6 601.2) rotate(-90)" font-size="22" text-anchor="end">Diplvulg</text><path d="M1108.4 572.0V586.6" stroke="#000" stroke-width="1.5"/><text transform="translate(1117.5 601.2) rotate(-90)" font-size="22" text-anchor="end">Arnothor</text><path d="M1127.4 572.0V586.6" stroke="#000" stroke-width="1.5"/><text transform="translate(1136.5 601.2) rotate(-90)" font-size="22" text-anchor="end">Myctpunc</text><path d="M1146.3 572.0V586.6" stroke="#000" stroke-width="1.5"/><text transform="translate(1155.4 601.2) rotate(-90)" font-size="22" text-anchor="end">Notabona</text><path d="M1165.2 572.0V586.6" stroke="#000" stroke-width="1.5"/><text transform="translate(1174.3 601.2) rotate(-90)" font-size="22" text-anchor="end">Argesphy</text><path d="M1184.1 572.0V586.6" stroke="#000" stroke-width="1.5"/><text transform="translate(1193.2 601.2) rotate(-90)" font-size="22" text-anchor="end">Lizarama</text><path d="M1203.1 572.0V586.6" stroke="#000" stroke-width="1.5"/><text transform="translate(1212.2 601.2) rotate(-90)" font-size="22" text-anchor="end">Sponcant</text><path d="M1222.0 572.0V586.6" stroke="#000" stroke-width="1.5"/><text transform="translate(1231.1 601.2) rotate(-90)" font-size="22" text-anchor="end">Galemela</text><path d="M1240.9 572.0V586.6" stroke="#000" stroke-width="1.5"/><text transform="translate(1250.0 601.2) rotate(-90)" font-size="22" text-anchor="end">Athepres</text><path d="M1259.9 572.0V586.6" stroke="#000" stroke-width="1.5"/><text transform="translate(1269.0 601.2) rotate(-90)" font-size="22" text-anchor="end">Sardpilc</text><path d="M1278.8 572.0V586.6" stroke="#000" stroke-width="1.5"/><text transform="translate(1287.9 601.2) rotate(-90)" font-size="22" text-anchor="end">Arnoimpe</text><path d="M1297.7 572.0V586.6" stroke="#000" stroke-width="1.5"/><text transform="translate(1306.8 601.2) rotate(-90)" font-size="22" text-anchor="end">Capraper</text><path d="M1316.7 572.0V586.6" stroke="#000" stroke-width="1.5"/><text transform="translate(1325.8 601.2) rotate(-90)" font-size="22" text-anchor="end">Gaidmedi</text><path d="M1335.6 572.0V586.6" stroke="#000" stroke-width="1.5"/><text transform="translate(1344.7 601.2) rotate(-90)" font-size="22" text-anchor="end">Congcong</text><path d="M1354.5 572.0V586.6" stroke="#000" stroke-width="1.5"/><text transform="translate(1363.6 601.2) rotate(-90)" font-size="22" text-anchor="end">Blenocel</text><path d="M1373.4 572.0V586.6" stroke="#000" stroke-width="1.5"/><text transform="translate(1382.5 601.2) rotate(-90)" font-size="22" text-anchor="end">Gaidmacr</text><path d="M1392.4 572.0V586.6" stroke="#000" stroke-width="1.5"/><text transform="translate(1401.5 601.2) rotate(-90)" font-size="22" text-anchor="end">Dicelabr</text><path d="M1411.3 572.0V586.6" stroke="#000" stroke-width="1.5"/><text transform="translate(1420.4 601.2) rotate(-90)" font-size="22" text-anchor="end">Callmacu</text><path d="M1430.2 572.0V586.6" stroke="#000" stroke-width="1.5"/><text transform="translate(1439.3 601.2) rotate(-90)" font-size="22" text-anchor="end">Labrmixt</text><path d="M1449.2 572.0V586.6" stroke="#000" stroke-width="1.5"/><text transform="translate(1458.3 601.2) rotate(-90)" font-size="22" text-anchor="end">Echivipe</text><path d="M1468.1 572.0V586.6" stroke="#000" stroke-width="1.5"/><text transform="translate(1477.2 601.2) rotate(-90)" font-size="22" text-anchor="end">Bugllute</text><path d="M1487.0 572.0V586.6" stroke="#000" stroke-width="1.5"/><text transform="translate(1496.1 601.2) rotate(-90)" font-size="22" text-anchor="end">Calllyra</text><path d="M1506.0 572.0V586.6" stroke="#000" stroke-width="1.5"/><text transform="translate(1515.0 601.2) rotate(-90)" font-size="22" text-anchor="end">Arnolate</text><path d="M1524.9 572.0V586.6" stroke="#000" stroke-width="1.5"/><text transform="translate(1534.0 601.2) rotate(-90)" font-size="22" text-anchor="end">Merlmerl</text><path d="M1543.8 572.0V586.6" stroke="#000" stroke-width="1.5"/><text transform="translate(1552.9 601.2) rotate(-90)" font-size="22" text-anchor="end">Engrencr</text><path d="M1562.7 572.0V586.6" stroke="#000" stroke-width="1.5"/><text transform="translate(1571.8 601.2) rotate(-90)" font-size="22" text-anchor="end">Belobelo</text><path d="M1581.7 572.0V586.6" stroke="#000" stroke-width="1.5"/><text transform="translate(1590.8 601.2) rotate(-90)" font-size="22" text-anchor="end">Ammotobi</text><path d="M1600.6 572.0V586.6" stroke="#000" stroke-width="1.5"/><text transform="translate(1609.7 601.2) rotate(-90)" font-size="22" text-anchor="end">Tractrac</text><path d="M1619.5 572.0V586.6" stroke="#000" stroke-width="1.5"/><text transform="translate(1628.6 601.2) rotate(-90)" font-size="22" text-anchor="end">Scoprhom</text><path d="M1638.5 572.0V586.6" stroke="#000" stroke-width="1.5"/><text transform="translate(1647.6 601.2) rotate(-90)" font-size="22" text-anchor="end">Spraspra</text><path d="M1657.4 572.0V586.6" stroke="#000" stroke-width="1.5"/><text transform="translate(1666.5 601.2) rotate(-90)" font-size="22" text-anchor="end">Lepiwhif</text><path d="M1676.3 572.0V586.6" stroke="#000" stroke-width="1.5"/><text transform="translate(1685.4 601.2) rotate(-90)" font-size="22" text-anchor="end">Alosfall</text><path d="M1695.2 572.0V586.6" stroke="#000" stroke-width="1.5"/><text transform="translate(1704.3 601.2) rotate(-90)" font-size="22" text-anchor="end">Scomscom</text><path d="M1714.2 572.0V586.6" stroke="#000" stroke-width="1.5"/><text transform="translate(1723.3 601.2) rotate(-90)" font-size="22" text-anchor="end">Salmsala</text><path d="M1733.1 572.0V586.6" stroke="#000" stroke-width="1.5"/><text transform="translate(1742.2 601.2) rotate(-90)" font-size="22" text-anchor="end">Diptbati</text><path d="M1752.0 572.0V586.6" stroke="#000" stroke-width="1.5"/><text transform="translate(1761.1 601.2) rotate(-90)" font-size="22" text-anchor="end">Cillmust</text>
</svg></body></html>
